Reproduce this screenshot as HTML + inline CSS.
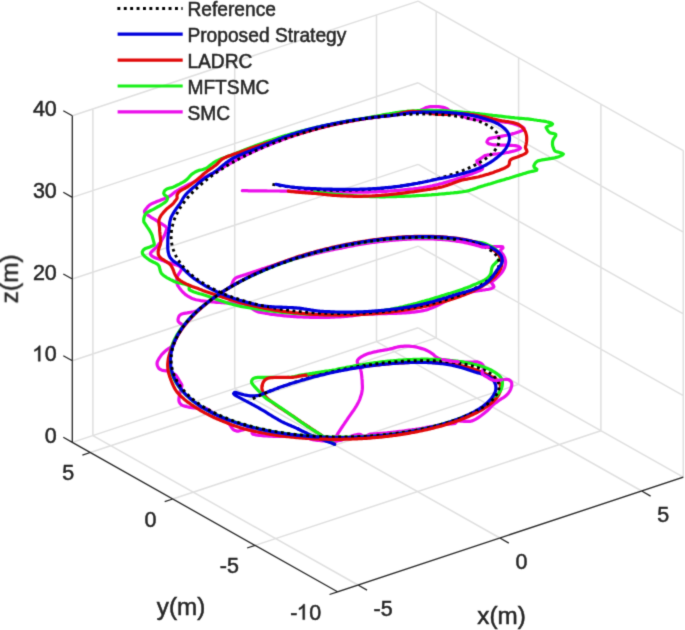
<!DOCTYPE html>
<html><head><meta charset="utf-8"><style>
html,body{margin:0;padding:0;background:#fff;width:685px;height:630px;overflow:hidden}
svg{display:block;will-change:transform}

text{font-family:"Liberation Sans",sans-serif;stroke:#262626;stroke-width:0.5px}
path.m,path.g,path.r,path.b{fill:none;stroke-width:3.2px;stroke-linecap:round;stroke-linejoin:round}
path.m{stroke:#eb0feb}path.g{stroke:#19f019}path.r{stroke:#e10a0a}path.b{stroke:#0000dc}
path.k{fill:none;stroke:#000;stroke-width:2.9px;stroke-linecap:butt}
</style></head><body>
<div id="w"><svg width="685" height="630" viewBox="0 0 685 630">
<defs><filter id="bl" x="0" y="0" width="685" height="630" filterUnits="userSpaceOnUse" color-interpolation-filters="sRGB"><feConvolveMatrix order="3" kernelMatrix="0.0192 0.1001 0.0192 0.1001 0.5228 0.1001 0.0192 0.1001 0.0192" divisor="1" edgeMode="duplicate"/></filter></defs>
<g filter="url(#bl)"><rect width="685" height="630" fill="#fff"/>
<path d="M358 585 L92.9 435.6 M92.9 435.6 L92.9 108.9 M499.9 538 L234.7 388.6 M234.7 388.6 L234.7 61.9 M641.7 491 L376.5 341.6 M376.5 341.6 L376.5 14.9 M337.5 591.8 L683.3 477.2 M683.3 477.2 L683.3 150.6 M255.1 545.4 L600.9 430.8 M600.9 430.8 L600.9 104.1 M172.7 499 L518.6 384.4 M518.6 384.4 L518.6 57.7 M90.3 452.5 L436.2 337.9 M436.2 337.9 L436.2 11.3 M72.3 442.4 L418.2 327.8 M418.2 327.8 L683.3 477.2 M72.3 360.7 L418.2 246.1 M418.2 246.1 L683.3 395.6 M72.3 279 L418.2 164.4 M418.2 164.4 L683.3 313.9 M72.3 197.4 L418.2 82.8 M418.2 82.8 L683.3 232.2 M72.3 115.7 L418.2 1.1 M418.2 1.1 L683.3 150.6" stroke="#dfdfdf" stroke-width="1.5" fill="none"/>
<path class="m" d="M334.6 444.3L334.7 442.7L334.9 441.1L335.2 439.5L335.6 438L336.2 436.5L337 435.1L337.8 433.7L338.6 432.4L339.5 431L340.4 429.7L341.2 428.3L342.1 427L343 425.7L343.9 424.4L344.8 423L345.7 421.7L346.6 420.4L347.5 419L348.4 417.7L349.3 416.4L350.2 415.1L351.1 413.8L352.1 412.5L352.9 411.2L353.9 409.9L354.8 408.5L355.6 407.2L356.5 405.8L357.3 404.4L358 403L358.7 401.6L359.4 400.1L360 398.6L360.5 397.1L361 395.6L361.5 394.1L361.8 392.5L362.1 390.9L362.3 389.4L362.4 387.8L362.4 386.2L362.3 384.6L362.2 383L362.2 381.4L362.1 379.8L361.9 378.2L361.8 376.6L361.6 375L361.4 373.4L361.2 371.8L360.8 370.3L360.5 368.7L360 367.2L359.3 365.8L358.3 364.5L357.5 363.1L357.2 361.5L357.6 360L358.7 358.8L359.9 357.8L361.2 356.9L362.6 356.1L364 355.3L365.4 354.7L367 354.1L368.5 353.6L370 353.1L371.5 352.8L373.1 352.3L374.6 351.9L376.2 351.6L377.8 351.2L379.3 351L380.9 350.6L382.5 350.4L384.1 350.1L385.6 349.8L387.2 349.6L388.8 349.3L390.3 348.9L391.9 348.5L393.4 348.1L395 347.6L396.5 347.2L398.1 346.9L399.6 346.6L401.2 346.4L402.8 346.3L404.4 346.2L406 346.2L407.6 346.2L409.2 346.2L410.8 346.3L412.4 346.5L414 346.7L415.6 346.9L417.1 347.3L418.7 347.7L420.2 348.1L421.8 348.6L423.3 349.1L424.8 349.6L426.3 350.2L427.7 350.9L429.1 351.6L430.5 352.4L431.8 353.4L433.1 354.3L434.3 355.4L435.5 356.4L436.8 357.4L438.1 358.2L439.6 358.7L441.2 359.2L442.7 359.5"/>
<path class="m" d="M458.5 361.9L460.1 362.1L461.7 362.2L463.3 362.2L464.9 362.2L466.5 362.1L468.1 362L469.7 362L471.3 362L472.9 362L474.5 361.9L476.1 361.9L477.7 361.9L479.2 362.4L480.7 363.1L482 364L483 365.2L483.4 366.8L483.2 368.3L482.8 369.9L482.3 371.4"/>
<path class="m" d="M501.8 379.8L503.4 379.7L505 379.5L506.6 379.4L508.2 379.5L509.6 380.2L510.8 381.2L511.6 382.6L511.8 384.1L511.7 385.7L511.3 387.3L510.8 388.8L510.2 390.2L509.4 391.6L508.5 392.9L507.5 394.2L506.4 395.3L505.2 396.4L503.9 397.3L502.5 398.2L501.2 398.9L499.8 399.8L498.5 400.7L497.2 401.7L496 402.6L494.6 403.5L493.4 404.6L492.2 405.6L491 406.7L490 407.9L488.9 409.1L487.8 410.2L486.6 411.3L485.4 412.3L484.2 413.3L482.9 414.3L481.6 415.3L480.3 416.2L479 417.1L477.7 418L476.3 418.8L474.9 419.6L473.5 420.3L472 420.9L470.5 421.3L468.9 421.4L467.3 421.4L465.7 421.4L464.1 421.3L462.5 421.2L460.9 421.1L459.3 421L457.7 420.9L456.1 420.9L454.5 420.9L453.1 421.1L454.5 421.9L455.8 422.8L455 423.4L453.4 423.7L451.8 423.8L450.2 424L448.6 424.1L447 424.2L445.4 424.3L443.8 424.4L442.2 424.6L440.6 424.8L439.1 425.1L437.5 425.4L435.9 425.7L434.4 426L432.8 426.3L431.2 426.6L429.6 426.9L428.1 427.2L426.5 427.4L424.9 427.8L423.3 428L421.8 428.3L420.2 428.5L418.6 428.8L417 429L415.4 429.3L413.9 429.5L412.3 429.7L410.7 430L409.1 430.2L407.5 430.4L405.9 430.6L404.4 430.9L402.8 431.1L401.2 431.3L399.6 431.4L398 431.6L396.4 431.8L394.8 432L393.2 432.2L391.6 432.3L390.1 432.5L388.5 432.7L386.9 432.9L385.3 433L383.7 433.1L382.1 433.3L380.5 433.4L378.9 433.6L377.3 433.7L375.7 433.8L374.1 433.9L372.5 434L370.9 434.2L369.4 434.4L368 435.2L366.6 436.1L365.2 436.7L363.7 436.5L362.3 435.7L361 434.7L359.6 434.3L358 434.4L356.4 434.7L354.8 435.1L353.3 435.6L351.8 436.1L350.3 436.7L348.9 437.4L347.4 437.9L345.9 438.5L344.4 439.1L342.9 439.6L341.3 440.1L339.8 440.5L338.2 440.8L336.7 441.1L335.1 441.3L333.5 441.3L331.9 441.3L330.3 441.2L328.7 441.2L327.1 441.1L325.5 441L323.9 440.9L322.3 440.8L320.7 440.6L319.1 440.5L317.5 440.3L315.9 440.1L314.3 439.8L312.7 439.6L311.2 439.3L309.7 438.7L308.4 437.8L307 437L305.5 436.8L303.9 436.7L302.3 436.6L300.7 436.5L299.1 436.5L297.5 436.4L295.9 436.4L294.3 436.4L292.7 436.4L291.1 436.4L289.5 436.4L287.9 436.4L286.3 436.4L284.7 436.4L283.1 436.4L281.5 436.4L279.9 436.4L278.3 436.4L276.7 436.3L275.1 436.3L273.5 436.3L271.9 436.2L270.3 436.2L268.7 436.1L267.1 436L265.5 435.9L263.9 435.8L262.3 435.6L260.7 435.5L259.1 435.3L257.5 435.1L255.9 434.9L254.4 434.5L252.8 434.1L252 433L252.3 431.4L252.8 429.9L253.1 428.4L252.1 427.5L250.6 427.7L249 428L247.4 428.4L245.9 428.9L244.4 429.4L242.9 429.9L241.3 430.3L239.8 430.8L238.2 431.1L236.6 431.1L235.1 430.6L233.7 429.9L232.6 428.8L231.6 427.5L230.7 426.2L229.8 424.8L228.8 423.6L227.5 422.7L226.2 421.8L224.9 420.9L223.5 420.1L222.2 419.1L220.9 418.2L219.6 417.3L218.3 416.3L217 415.4L215.7 414.5L214.3 413.6L213 412.7L211.7 411.9L210.4 411L209 410.1L207.7 409.3L206.3 408.5L204.7 408L203.2 407.8L201.6 407.8L200 407.8L198.4 407.8L196.8 407.9L195.2 407.9L193.6 407.9L192 407.7L190.4 407.4L188.8 407.1L187.3 406.8L185.7 406.4L184.2 405.9L182.7 405.4L181.2 404.7L180.1 403.5L179.3 402.2L178.9 400.6L178.9 399L179.1 397.4L179.3 395.9L179.7 394.3L180 392.7L180.2 391.1L180.8 389.6L181.3 388.1L181.8 386.6L181.9 385L181.1 383.6L180.3 382.3L179.4 380.9L178.6 379.5L177.8 378.2L177 376.8L176.1 375.5L174.9 374.4L173.5 373.6L172.1 372.9L170.6 372.3L169.1 371.7L167.6 371.2L166.1 370.8L164.5 370.7L162.9 370.4L161.4 369.9L159.9 369.2L158.7 368.2L157.9 366.8L157.3 365.4L157 363.8L157.2 362.2L157.8 360.7L158.6 359.3L159.4 357.9L160.3 356.6L161.2 355.3L162.2 354.1L163.3 353L164.5 351.8L165.7 350.8L166.9 349.8L168.2 348.9L169.6 348L171 347.2L172.3 346.3L173.5 345.3L174 343.8L174.5 342.3L175.1 340.8L175.8 339.3L176.5 337.9L177.1 336.4L177.9 335L178.7 333.6L179.5 332.3L180.3 330.9L181.2 329.6L182.1 328.2L183 326.9L182.8 325.5L181.7 324.3L180.4 323.4L179.1 322.4L178.2 321.2L178 319.6L178.3 318L178.9 316.5L179.8 315.2L181.1 314.3L182.6 313.8L184.2 313.4L185.8 313.1L187.3 312.9L188.9 312.6L190.5 312.3L192.1 312L193.6 311.7L195.2 311.3L196.7 310.7L198 309.9L199.3 308.9L200.5 307.9L201.8 306.9L203 305.9L204.3 304.9L205.6 304L206.8 303L208.1 302L209.4 301L210.6 300L211.9 299.1L213.2 298.1L214.5 297.2L215.8 296.3L217.2 295.4L218.5 294.5L219.8 293.6L221.1 292.8L222.5 291.9L223.9 291.1L225.2 290.2L226.6 289.4L227.9 288.5L229.3 287.7L230.6 286.7L231.5 285.4L232.1 283.9L232.6 282.4L233.2 280.9L234.1 279.6L235.1 278.4L236.5 277.6L238 277L239.5 276.4L241 275.9L242.5 275.5L244 275L245.6 274.6L247.1 274.1L248.6 273.6L250.1 273.1L251.7 272.5L253.2 272L254.7 271.5L256.2 271L257.7 270.4L259.2 269.9L260.7 269.4L262.3 268.9L263.8 268.4L265.3 267.9L266.8 267.4L268.4 266.9L269.9 266.5L271.4 266L272.9 265.5L274.5 265L276 264.6L277.5 264.1L279 263.6L280.6 263.1L282.1 262.7L283.6 262.2L285.2 261.7L286.7 261.3L288.2 260.8L289.8 260.4L291.3 260L292.8 259.5L294.4 259L295.9 258.6L297.5 258.2L299 257.8L300.6 257.4L302.1 256.9L303.6 256.5L305.2 256.2L306.7 255.7L308.3 255.4L309.8 255L311.4 254.6L313 254.2L314.5 253.8L316.1 253.5L317.6 253.1L319.2 252.7L320.7 252.4L322.3 252L323.9 251.7L325.4 251.3L327 251L328.6 250.7L330.1 250.3L331.7 250L333.2 249.6L334.8 249.3L336.4 249L337.9 248.6L339.5 248.4L341.1 248.1L342.7 247.7L344.2 247.4L345.8 247.1L347.4 246.8L348.9 246.5L350.5 246.2L352.1 245.9L353.6 245.6L355.2 245.3L356.8 245L358.4 244.7L359.9 244.5L361.5 244.2L363.1 244L364.7 243.7L366.3 243.4L367.8 243.2L369.4 242.9L371 242.7L372.6 242.5L374.2 242.3L375.8 242.1L377.3 241.9L378.9 241.7L380.5 241.5L382.1 241.3L383.7 241.1L385.3 241L386.9 240.8L388.5 240.6L390.1 240.5L391.7 240.3L393.3 240.2L394.8 240.1L396.4 239.9L398 239.8L399.6 239.7L401.2 239.6L402.8 239.4L404.4 239.4L406 239.3L407.6 239.2L409.2 239.1L410.8 239.1L412.4 239L414 238.9L415.6 238.9L417.2 238.9L418.8 238.9L420.4 238.8L422 238.8L423.6 238.8L425.2 238.8L426.8 238.9L428.4 238.9L430 238.9L431.6 239L433.2 239L434.8 239.1L436.4 239.2L438 239.3L439.6 239.4L441.2 239.5L442.8 239.6L444.4 239.7L446 239.8L447.6 240L449.2 240.1L450.7 240.3L452.3 240.6L453.9 240.7L455.5 241L457.1 241.2"/>
<path class="m" d="M488.3 247.1L489.9 247L491.5 246.8L493.1 246.7L494.7 246.7L496.3 246.6L497.9 246.5L499.5 246.5L501.1 246.6L502.7 246.8L503 247.9L501.9 249L500.6 250L500.3 251.3L501.3 252.4L502.3 253.7L503.3 255L504 256.4L504.7 257.8L505.1 259.4L505.5 260.9L505.6 262.5L505.4 264.1L505.1 265.7L504.7 267.2L504 268.7L503.3 270.1L502.5 271.4L501.5 272.7L500.5 274L499.4 275.2L498.3 276.3L497.2 277.4L496 278.5L494.8 279.5L493.6 280.5L492.3 281.5L491.5 282.8L492.3 284.1L493.4 285.4L493.9 286.8L492.8 287.9L491.4 288.5L489.8 289L488.3 289.3L486.7 289.5L485.1 289.8L483.5 290L481.9 290.3L480.3 290.4L478.8 290.7L477.2 290.9L475.6 291.1L474 291.4L472.5 291.8L470.9 292.2L469.4 292.7L467.9 293.3L466.4 293.7L464.9 294.2L463.3 294.8L461.8 295.2L460.3 295.7L458.8 296.2L457.3 296.8L455.7 297.2L454.2 297.8L452.7 298.2L451.2 298.8L449.7 299.4L448.2 299.9L446.8 300.6L445.3 301.3L443.9 302.1L442.5 302.8L441.1 303.5L439.7 304.3L438.2 305L436.8 305.7L435.4 306.4L433.9 307L432.4 307.7L430.9 308.2L429.4 308.8L427.9 309.4L426.4 309.9L424.9 310.3L423.3 310.6L421.8 310.9L420.2 311.2L418.6 311.5L417 311.7L415.4 311.9L413.8 312.1L412.2 312.2L410.7 312.4L409.1 312.6L407.5 312.7L405.9 312.8L404.3 312.9L402.7 313L401.1 313.1L399.5 313.2L397.9 313.2L396.3 313.3L394.7 313.4L393.1 313.4L391.5 313.5L389.9 313.5L388.3 313.5L386.7 313.6L385.1 313.6L383.5 313.6L381.9 313.7L380.3 313.7L378.7 313.7L377.1 313.8L375.5 313.8L373.9 313.8L372.3 313.9L370.7 313.9L369.1 314L367.5 314L365.9 314.1L364.3 314.2L362.7 314.4L361.1 314.5L359.5 314.7L357.9 314.9L356.4 315.1L354.8 315.3L353.2 315.6L351.6 315.8L350 316L348.4 316.2L346.8 316.3L345.2 316.5L343.6 316.6L342.1 316.7L340.5 316.8L338.9 316.9L337.3 317L335.7 317L334.1 317.1L332.5 317.2L330.9 317.2L329.3 317.3L327.7 317.3L326.1 317.4L324.5 317.4L322.9 317.4L321.3 317.4L319.7 317.4L318.1 317.4L316.5 317.4L314.9 317.3L313.3 317.3L311.7 317.3L310.1 317.3L308.5 317.2L306.9 317.2L305.3 317.1L303.7 317.1L302.1 317L300.5 316.9L298.9 316.8L297.3 316.8L295.7 316.7L294.1 316.6L292.5 316.5L290.9 316.3L289.3 316.2L287.7 316.1L286.1 315.9L284.5 315.8L282.9 315.6L281.3 315.5L279.8 315.2L278.2 315.1L276.6 314.9L275 314.7L273.4 314.5L271.8 314.3L270.2 314.1L268.6 313.8L267.1 313.5L265.5 313.3L263.9 313L262.3 312.7L260.8 312.5L259.2 312.2L257.7 311.7L256.2 311.1L254.8 310.3L253.4 309.5L252.1 308.6L250.8 307.6L249.5 306.7L248.2 305.8L246.8 305.1L245.3 304.5L243.7 304L242.2 303.7L240.6 303.4L239 303.3L237.4 303.1L235.8 303L234.2 303L232.6 302.9L231 302.9L229.4 302.9L227.8 302.8L226.2 302.8L224.6 302.8L223 302.7L221.4 302.6L219.8 302.5L218.2 302.4L216.6 302.3L215 302.1L213.5 302L211.9 301.8L210.3 301.6L208.7 301.5L207.1 301.3L205.5 301.2L203.9 301L202.3 300.8L200.7 300.6L199.2 300.3L197.6 300L196 299.7L194.5 299.3L193 298.8L191.4 298.2L190.1 297.4L188.7 296.6L187.3 295.8L186 294.9L184.8 293.9L183.6 292.8L182.4 291.6L181.4 290.5L180.4 289.2L179.4 287.9L178.5 286.6L177.7 285.3L177.1 283.8L176.8 282.2L176.8 280.6L176.9 279L177 277.4L177.6 275.9L178.4 274.5L179.3 273.2L180.1 271.8L181 270.5L181.5 269L181.1 267.5L179.9 266.5L178.5 265.7L177 265.1L175.5 264.7L173.9 264.2L172.4 263.7L170.9 263.3L169.3 262.9L167.8 262.4L166.3 261.9L164.8 261.4L163.3 260.7L161.8 260.2L160.3 259.6L158.8 259.1L157.3 258.6L155.8 258L154.3 257.4L152.9 256.6L151.6 255.7L150.6 254.5L150.6 253L151.5 251.7L152.7 250.6L153.9 249.6L155.1 248.5L156.3 247.4L157.2 246.1L158.2 244.9L159.2 243.6L160.2 242.4L161.2 241.1L162 239.7L162.9 238.4L163.6 237L164.3 235.5L164.9 234.1L165.5 232.6L166.1 231.1L166.5 229.6L166.7 228L165.9 226.7L164.6 225.7L163.2 224.9L161.9 224L160.5 223.2L159.1 222.4L157.8 221.5L156.5 220.6L155.1 219.7L153.7 218.9L152.4 218.1L151 217.3L149.7 216.3L148.4 215.4L147.1 214.4L145.8 213.5L144.6 212.5L144.5 211.1L145.4 209.7L146.3 208.5L147.4 207.2L148.4 206.1L149.6 205L151 204.1L152.4 203.4L153.9 202.8L155.3 202.2L156.8 201.5L158.3 200.9L159.8 200.4L161.3 199.8L162.8 199.3L164.3 198.8L165.8 198.3L167.3 197.6L168.7 196.8L170 195.9L171.3 194.9L172.5 193.9L173.8 192.9L175.1 192L176.5 191.2L177.8 190.4L179.2 189.5L180.6 188.8L182 188L183.4 187.3L184.9 186.5L186.3 185.8L187.7 185L189.1 184.3L190.5 183.6L192 182.9L193.4 182.2L194.9 181.6L196.4 180.9L197.8 180.3L199.3 179.6L200.7 178.9L202.2 178.3L203.7 177.7L205.1 177L206.6 176.4L208 175.7L209.5 175L210.9 174.3L212.3 173.6L213.8 172.8L215.2 172.1L216.5 171.3L217.9 170.5L219.3 169.6L220.7 168.8L222 168L223.4 167.2L224.8 166.4L226.2 165.5L227.6 164.8L229 164L230.4 163.2L231.8 162.5L233.1 161.6L234.6 160.9L236 160.2L237.4 159.4L238.8 158.7L240.2 157.9L241.7 157.2L243.1 156.5L244.5 155.8L246 155.1L247.4 154.4L248.9 153.8L250.3 153.1L251.8 152.4L253.2 151.7L254.7 151L256.1 150.4L257.6 149.7L259.1 149.1L260.5 148.5L262 147.8L263.5 147.2L264.9 146.6L266.4 146L267.9 145.4L269.4 144.8L270.9 144.2L272.4 143.6L273.8 143L275.3 142.4L276.8 141.9L278.3 141.3L279.8 140.7L281.3 140.2L282.8 139.6L284.3 139.1L285.8 138.5L287.4 138L288.9 137.5L290.4 137L291.9 136.4L293.4 136L294.9 135.4L296.5 135L298 134.5L299.5 134L301 133.5L302.6 133.1L304.1 132.5L305.6 132.1L307.2 131.6L308.7 131.2L310.2 130.8L311.8 130.3L313.3 129.9L314.9 129.5L316.4 129L317.9 128.6L319.5 128.2L321 127.8L322.6 127.4L324.1 127.1L325.7 126.6L327.2 126.3L328.8 125.9L330.4 125.5L331.9 125.1L333.5 124.8L335 124.5L336.6 124.1L338.1 123.7L339.7 123.4L341.3 123L342.8 122.7L344.4 122.4L346 122.1L347.5 121.8L349.1 121.5L350.7 121.2L352.3 120.9L353.8 120.6L355.4 120.4L357 120L358.6 119.8L360.1 119.5L361.7 119.3L363.3 119L364.9 118.7L366.5 118.5L368 118.3L369.6 118L371.2 117.8L372.8 117.6L374.4 117.4L376 117.2L377.6 117L379.1 116.8L380.7 116.5L382.3 116.4L383.9 116.2L385.5 116L387.1 115.9L388.7 115.7L390.3 115.5L391.9 115.4L393.4 115.2L395 115L396.6 114.7L398.2 114.4L399.8 114.2L401.3 113.9L402.9 113.6L404.5 113.2L406.1 113L407.6 112.7L409.2 112.5L410.8 112.3L412.4 112.1L414 112L415.6 111.9L417.2 111.6L418.7 111.2L420.2 110.5L421.6 109.8L423 109.1L424.4 108.4L425.9 107.6L427.4 107.2L429 106.9L430.5 106.7L432.1 106.6L433.7 106.6L435.3 106.6L436.9 106.7L438.5 106.7L440.1 106.9L441.7 107.1L443.3 107.4L444.8 107.8L446.3 108.4L447.7 109.2L448.9 110.3L450.2 111.1L451.7 111.7L453.3 112.2L454.8 112.6L456.3 113.2L457.8 113.7L459.2 114.5L460.6 115.2L462.1 115.9L463.5 116.6L465 117.1L466.5 117.7L468 118.2L469.6 118.6L471.1 118.9L472.7 119.2L474.3 119.4L475.9 119.5L477.5 119.8L479.1 119.9L480.7 120L482.2 120.1L483.8 120.2L485.4 120.3L487 120.5L488.6 120.6L490.2 120.7L491.8 120.8L493.4 120.9L495 121.1L496.6 121.2L498.2 121.3L499.8 121.5L501.4 121.7L503 121.8L504.6 122.1L506.1 122.3L507.7 122.5L509.3 122.8L510.9 123.2L512.4 123.5L514 123.9L515.5 124.4L517 124.9L518.5 125.4L520 126L521.5 126.6L522.9 127.3L524.1 128.4L523.5 129.7L522.1 130.5L520.7 131.1L519.2 131.7L517.7 132.2L516.2 132.7L514.6 133.2L513.1 133.6L511.5 134.1L510 134.5L508.4 134.8L506.9 135.2L505.3 135.5L503.7 135.8L502.2 136.1L500.6 136.4L499 136.6L497.4 136.9L495.9 137.2L494.3 137.5L492.7 137.8L491.1 138.1L489.6 138.4L488.3 139.3L487.4 140.6L486.9 142.1L487.9 143.3L489.4 143.9L490.9 144.3L492.5 144.7L494.1 144.8L495.7 144.9L497.3 145L498.9 145L500.5 145.1L502.1 145.1L503.7 145.1L505.3 145.2L506.9 145.2L508.5 145.3L510.1 145.3L511.7 145.4L513.3 145.5L514.9 145.6L516.4 145.9L518 146.3L519.4 146.9L520.5 148.1L519.4 149.1L517.9 149.7L516.4 150.2L514.9 150.7L513.3 151.1L511.8 151.5L510.2 151.9L508.7 152.3L507.1 152.5L505.5 152.8L503.9 153.1L502.3 153.3L500.8 153.5L499.2 153.7L497.6 153.9L496 154L494.4 154.2L492.8 154.4L491.2 154.6L489.6 154.8L488 154.9L486.5 155.2L484.9 155.6L483.6 156.5L482.3 157.4L480.9 158.3L479.6 159.2L478.3 160L476.9 160.9L477.1 162.2L478.3 163.3L479.5 164.4L480.6 165.6L481.7 166.7L482.7 167.9L482.3 169.3L480.9 170L479.5 170.7L478 171.3L476.5 171.9L475 172.5L473.5 173.1L472.1 173.7L470.5 174.2L469 174.7L467.5 175.3L466 175.8L464.5 176.3L463 176.9L461.5 177.4L460 177.9L458.5 178.4L456.9 178.9L455.4 179.4L453.9 179.9L452.4 180.4L450.8 180.8L449.3 181.2L447.8 181.7L446.2 182.2L444.7 182.6L443.2 183.1L441.6 183.5L440.1 183.8L438.5 184.3L437 184.7L435.4 185L433.9 185.4L432.3 185.8L430.7 186.1L429.2 186.5L427.6 186.7L426 187L424.5 187.3L422.9 187.6L421.3 187.8L419.7 188L418.1 188.3L416.5 188.5L415 188.7L413.4 188.9L411.8 189L410.2 189.2L408.6 189.4L407 189.6L405.4 189.7L403.8 189.8L402.2 190L400.6 190.2L399 190.3L397.4 190.4L395.8 190.5L394.3 190.7L392.7 190.8L391.1 190.9L389.5 191L387.9 191.2L386.3 191.3L384.7 191.4L383.1 191.5L381.5 191.5L379.9 191.6L378.3 191.7L376.7 191.8L375.1 191.9L373.5 191.9L371.9 192L370.3 192L368.7 192.1L367.1 192.1L365.5 192.1L363.9 192.2L362.3 192.2L360.7 192.2L359.1 192.2L357.5 192.2L355.9 192.2L354.3 192.2L352.7 192.2L351.1 192.2L349.5 192.2L347.9 192.2L346.3 192.2L344.7 192.2L343.1 192.2L341.5 192.1L339.9 192.1L338.3 192.1L336.7 192.1L335.1 192L333.5 192L331.9 191.9L330.3 191.9L328.7 191.9L327.1 191.9L325.5 191.8L323.9 191.8L322.3 191.9L320.7 191.9L319.1 191.9L317.5 191.9L315.9 191.9L314.3 191.9L312.7 191.8L311.1 191.8L309.5 191.8L307.9 191.7L306.3 191.7L304.7 191.6L303.1 191.6L301.5 191.5L299.9 191.5L298.3 191.5L296.7 191.4L295.1 191.4L293.5 191.3L291.9 191.3L290.3 191.3L288.7 191.2L287.1 191.2L285.5 191.2L283.9 191.1L282.3 191.1L280.7 191.1L279.1 191L277.5 191L275.9 191L274.3 191L272.7 191L271.1 191L269.5 191L267.9 191L266.3 190.9L264.7 190.9L263.1 190.9L261.5 190.9L259.9 190.8L258.3 190.8L256.7 190.8L255.1 190.8L253.5 190.8L251.9 190.8L250.3 190.8L248.7 190.8L247.1 190.7L245.5 190.7L243.9 190.7L242.3 190.7"/>
<path class="r" d="M334.6 444.3L333.3 443.4L332 442.5L330.7 441.6L329.3 440.6L328 439.7L326.7 438.8L325.4 438L324 437.1L322.7 436.2L321.4 435.3L320.1 434.4L318.7 433.5L317.4 432.6L316 431.8L314.7 430.9L313.4 430L312 429.1L310.7 428.2L309.4 427.3L308 426.5"/>
<path class="g" d="M334.6 444.3L333.3 443.4L332 442.5L330.7 441.6L329.3 440.6L328 439.7L326.7 438.8L325.4 438L324 437.1L322.7 436.2L321.4 435.3L320 434.4L318.7 433.5L317.4 432.7L316 431.8L314.6 431L313.3 430.1L311.9 429.3L310.6 428.4L309.2 427.5L307.9 426.7"/>
<path class="b" d="M334.6 444.3L333.1 443.7L331.6 443.1L330.1 442.6L328.6 442L327.1 441.5L325.6 440.9L324.1 440.3L322.6 439.7L321.1 439.2L319.6 438.6L318.1 438.1L316.6 437.5L315.2 436.9L313.7 436.3L312.2 435.7L310.7 435.1L309.3 434.4L307.8 433.7L306.4 433L304.9 432.3L303.5 431.6L302 431L300.6 430.2L299.2 429.5L297.8 428.8"/>
<path class="r" d="M308 426.5L306.7 425.6L305.3 424.7L304 423.8L302.7 422.9L301.3 422L300 421.1L298.7 420.2L297.4 419.3L296.1 418.4L294.8 417.4L293.5 416.5L292.1 415.7L290.8 414.8L289.4 413.9L288.1 413L286.8 412.1L285.4 411.3L284.1 410.4L282.7 409.5L281.4 408.7L280.1 407.8L278.7 406.9L277.4 406L276.1 405.1L274.8 404.2L273.5 403.2L272.2 402.3L270.9 401.3L269.7 400.3L268.4 399.3L267.2 398.2L266.1 397.1L265.1 395.9L264.2 394.6L263.5 393.1L262.8 391.7L262.2 390.2L261.9 388.6L261.9 387L262.2 385.5"/>
<path class="r" d="M306 375.2L307.5 375L309.1 374.8L310.7 374.5L312.3 374.3L313.9 374.1L315.5 373.9L317.1 373.7L318.6 373.4L320.2 373.2L321.8 373L323.4 372.8L325 372.6L326.6 372.3L328.2 372.1L329.7 371.9L331.3 371.7L332.9 371.4L334.5 371.2L336.1 370.9L337.6 370.6L339.2 370.4L340.8 370L342.4 369.8L343.9 369.5L345.5 369.2L347.1 369L348.7 368.7L350.3 368.5L351.8 368.2L353.4 368L355 367.7L356.6 367.5L358.2 367.3L359.8 367L361.3 366.8L362.9 366.7L364.5 366.4L366.1 366.2L367.7 366L369.3 365.8L370.9 365.7L372.5 365.5L374.1 365.3L375.7 365.1L377.2 365L378.8 364.8L380.4 364.6L382 364.5L383.6 364.3L385.2 364.1L386.8 364L388.4 363.9L390 363.7L391.6 363.5L393.2 363.4L394.8 363.3L396.4 363.2L398 363.1L399.6 363L401.2 362.9L402.7 362.8L404.3 362.7L405.9 362.6L407.5 362.6L409.1 362.5L410.7 362.5L412.3 362.4L413.9 362.4L415.5 362.3L417.1 362.3L418.7 362.3L420.3 362.3L421.9 362.3L423.5 362.3L425.1 362.3L426.7 362.4L428.3 362.4L429.9 362.5L431.5 362.5L433.1 362.6L434.7 362.7L436.3 362.7L437.9 362.9L439.5 363L441.1 363.1L442.7 363.2L444.3 363.4L445.9 363.5L447.5 363.7L449.1 363.9L450.7 364.1L452.3 364.3L453.8 364.5L455.4 364.7L457 365L458.6 365.3L460.1 365.6L461.7 365.9L463.3 366.2L464.8 366.6L466.4 367L467.9 367.4L469.5 367.8L471 368.2L472.6 368.7L474.1 369.2L475.6 369.7L477.1 370.3L478.5 370.9L480 371.5L481.5 372.1L483 372.7L484.5 373.3L485.9 373.9L487.4 374.6L488.9 375.2L490.3 375.9L491.7 376.6L493.2 377.3L494.5 378.1L495.8 379.1L497 380.2L498 381.3L499 382.6L499.8 384L500.4 385.5L500.6 387L500.6 388.6L500.4 390.2L500 391.8L499.4 393.2L498.8 394.7L497.9 396L497 397.3L496 398.6"/>
<path class="g" d="M307.9 426.7L306.5 425.8L305.2 424.9L303.9 424L302.6 423.1L301.2 422.2L299.9 421.3L298.7 420.4L297.4 419.4L296 418.5L294.8 417.5L293.4 416.6L292.1 415.7L290.8 414.8L289.5 413.9L288.2 413L286.9 412.1L285.6 411.1L284.3 410.2L283 409.2L281.7 408.3L280.3 407.5L279 406.6L277.7 405.7L276.4 404.8L275 403.9L273.7 403L272.3 402.2L270.9 401.4L269.5 400.6L268.2 399.8L266.8 398.9L265.6 397.9L264.3 396.9L263.2 395.8L262.1 394.6L261 393.4L259.9 392.2L258.8 391.1L257.7 390L256.6 388.8L255.5 387.6L254.4 386.5L253.4 385.3L252.4 384L251.6 382.6L251.5 381.1L252.2 379.6L253.4 378.5L254.8 377.9L256.3 377.6L257.9 377.4L259.5 377.4L261.1 377.3L262.7 377.3L264.3 377.3L265.9 377.3L267.5 377.3L269.1 377.3L270.7 377.4L272.3 377.4L273.9 377.4L275.5 377.5L277.1 377.5L278.7 377.5L280.3 377.5L281.9 377.5L283.5 377.5L285.1 377.5L286.7 377.5L288.3 377.4L289.9 377.3L291.5 377.1L293.1 376.8L294.7 376.5L296.2 376.1L297.8 375.8L299.3 375.4L300.9 375.1L302.5 374.8L304.1 374.6L305.6 374.3L307.2 374.1L308.8 373.9L310.4 373.6L312 373.4L313.5 373.1L315.1 372.9L316.7 372.6L318.3 372.4L319.9 372.2L321.5 371.9L323 371.7L324.6 371.4L326.2 371.2L327.8 371L329.4 370.7L330.9 370.5L332.5 370.2L334.1 370L335.7 369.7L337.2 369.3L338.8 368.9L340.4 368.6L341.9 368.3L343.5 368L345.1 367.7L346.6 367.3L348.2 367L349.8 366.8L351.4 366.5L352.9 366.2L354.5 365.9L356.1 365.6L357.6 365.3L359.2 365L360.8 364.8L362.4 364.6L364 364.3L365.5 364.1L367.1 363.8L368.7 363.6L370.3 363.4L371.9 363.2L373.5 362.9L375 362.7L376.6 362.5L378.2 362.3L379.8 362.1L381.4 361.9L383 361.7L384.6 361.5L386.2 361.3L387.8 361.2L389.3 361.1L390.9 360.9L392.5 360.8L394.1 360.6L395.7 360.5L397.3 360.3L398.9 360.2L400.5 360.1L402.1 360L403.7 359.9L405.3 359.8L406.9 359.7L408.5 359.7L410.1 359.6L411.7 359.5L413.3 359.4L414.9 359.4L416.5 359.4L418.1 359.3L419.7 359.3L421.3 359.2L422.9 359.2L424.5 359.2L426.1 359.2L427.7 359.2L429.3 359.3L430.9 359.3L432.5 359.3L434.1 359.4L435.7 359.4L437.3 359.5L438.9 359.6L440.5 359.6L442.1 359.8L443.6 359.8L445.2 359.9L446.8 360.1L448.4 360.2L450 360.4L451.6 360.5L453.2 360.7L454.8 360.8L456.4 361.1L458 361.2L459.6 361.5L461.1 361.7L462.7 361.9L464.3 362.3L465.9 362.5L467.4 362.8L469 363.1L470.6 363.4L472.1 363.8L473.7 364.2L475.2 364.5L476.8 364.9L478.3 365.4L479.9 365.8L481.4 366.3L482.9 366.8L484.4 367.3L485.9 367.9L487.4 368.5L488.8 369.1L490.3 369.8L491.7 370.5L493.1 371.3L494.5 372.1L495.8 373L497.1 373.9L498.4 374.9L499.5 376L500.6 377.2L501.4 378.6L502 380L502.3 381.6L502.4 383.2L502.3 384.8L502.1 386.3L501.6 387.9L501.1 389.4L500.3 390.7L499.5 392.1L498.5 393.4L497.5 394.6L496.5 395.9L495.4 397.1L494.3 398.2L493.1 399.3L491.9 400.3L490.7 401.4L489.5 402.4L488.3 403.5L487 404.4L485.7 405.4L484.4 406.3L483 407.1L481.7 407.9L480.3 408.8L479 409.6L477.6 410.4L476.1 411.1L474.7 411.9L473.3 412.6L471.9 413.3L470.4 414L469 414.6L467.5 415.3L466.1 415.9L464.6 416.5L463.1 417.1L461.6 417.7L460.1 418.3L458.6 418.9L457.1 419.4L455.6 420L454.1 420.5L452.6 421L451.1 421.5L449.5 422L448 422.4L446.5 423L445 423.4L443.4 423.8L441.9 424.3L440.3 424.7L438.8 425.1L437.2 425.5L435.7 425.9L434.2 426.3L432.6 426.7L431.1 427.2L429.5 427.5L427.9 427.9L426.4 428.2L424.8 428.5L423.3 428.9L421.7 429.2L420.1 429.5L418.6 429.9L417 430.2L415.4 430.5L413.8 430.7L412.3 431.1L410.7 431.3L409.1 431.6L407.5 431.8L406 432.2L404.4 432.4L402.8 432.6L401.2 432.9L399.6 433L398.1 433.3L396.5 433.5L394.9 433.7L393.3 433.9L391.7 434.1L390.1 434.3L388.5 434.5L386.9 434.7L385.4 434.8L383.8 435L382.2 435.2L380.6 435.3L379 435.5L377.4 435.7L375.8 435.8L374.2 435.9L372.6 436L371 436.1L369.4 436.2L367.8 436.3L366.2 436.5L364.6 436.6L363 436.6L361.4 436.7L359.8 436.8L358.2 436.8L356.6 436.9L355 437L353.4 437.1L351.8 437.1L350.2 437.1L348.6 437.2L347 437.2L345.4 437.2L343.8 437.2L342.2 437.2L340.6 437.2L339 437.2L337.4 437.2L335.8 437.2L334.2 437.2L332.6 437.2L331 437.1L329.4 437.1L327.8 437.1L326.3 437L324.7 436.9L323.1 436.9L321.5 436.8L319.9 436.7L318.3 436.7L316.7 436.6L315.1 436.5L313.5 436.4L311.9 436.2L310.3 436.1L308.7 436L307.1 435.9L305.5 435.8L303.9 435.7L302.3 435.5L300.7 435.4L299.1 435.2L297.5 435L295.9 434.8L294.3 434.7L292.8 434.5L291.2 434.3L289.6 434.1L288 433.9L286.4 433.7L284.8 433.4L283.2 433.2L281.7 433L280.1 432.8L278.5 432.5L276.9 432.3L275.3 432L273.8 431.7L272.2 431.5L270.6 431.1L269 430.8L267.5 430.6L265.9 430.2L264.3 429.9L262.8 429.6L261.2 429.3L259.7 428.9L258.1 428.5L256.5 428.2L255 427.8L253.4 427.4L251.9 427L250.3 426.6L248.8 426.2L247.2 425.8L245.7 425.4L244.2 425L242.6 424.4L241.1 424L239.6 423.5L238 423L236.5 422.6L235 422L233.5 421.5L232 421L230.5 420.5L229 419.9L227.5 419.4L226 418.8L224.5 418.2L223 417.6L221.5 417L220.1 416.4L218.6 415.7L217.1 415L215.7 414.4L214.3 413.7L212.8 413L211.4 412.3L209.9 411.6L208.5 410.8L207.1 410.1L205.7 409.3L204.4 408.4L203 407.6L201.6 406.8L200.3 406L198.9 405.1L197.6 404.2L196.3 403.3L195 402.4L193.7 401.4L192.4 400.4L191.2 399.4L190 398.4L188.8 397.3L187.6 396.3L186.4 395.2L185.3 394.1L184.1 392.9L183 391.7L181.9 390.6L180.9 389.4L179.9 388.1L178.9 386.8L178 385.5L177.1 384.2L176.2 382.9L175.5 381.5L174.6 380.1L173.9 378.7L173.3 377.2L172.6 375.8L172.1 374.3L171.5 372.8L171.1 371.2L170.7 369.7L170.3 368.1L170 366.6L169.8 365L169.6 363.4L169.5 361.8L169.5 360.2L169.5 358.6L169.6 357L169.7 355.4L169.9 353.8L170.2 352.3L170.5 350.7L170.9 349.1L171.3 347.6L171.8 346.1L172.4 344.6L172.9 343.1L173.6 341.6L174.2 340.2L174.9 338.7L175.7 337.3L176.4 335.9L177.2 334.5L178.1 333.2L179 331.8L179.8 330.5L180.7 329.2L181.7 327.9L182.6 326.6L183.6 325.4L184.7 324.1L185.7 322.9L186.7 321.7L187.8 320.5L188.8 319.3L189.9 318.1L191 317L192.2 315.8L193.3 314.7L194.4 313.6L195.7 312.5L196.8 311.4L198 310.3L199.2 309.3L200.4 308.3L201.6 307.2L202.8 306.2L204.1 305.2L205.3 304.1L206.5 303.2L207.8 302.2L209.1 301.2L210.3 300.2L211.6 299.3L212.9 298.3L214.3 297.4L215.6 296.5L216.8 295.6L218.2 294.7L219.5 293.8L220.9 292.9L222.2 292.1L223.5 291.2L224.9 290.4L226.3 289.5L227.6 288.7L229 287.9L230.4 287.1L231.8 286.3L233.2 285.5L234.6 284.7L236 284L237.3 283.1L238.8 282.4L240.2 281.7L241.6 280.9L243 280.1L244.4 279.4L245.8 278.7L247.3 278L248.7 277.3L250.2 276.6L251.6 275.9L253.1 275.2L254.5 274.5L256 273.9L257.4 273.2L258.9 272.6L260.4 272L261.8 271.3L263.3 270.7L264.8 270L266.2 269.4L267.7 268.8L269.2 268.2L270.7 267.6L272.2 267L273.7 266.4L275.1 265.8L276.6 265.2L278.1 264.7L279.6 264.1L281.1 263.6L282.6 263L284.1 262.5L285.6 261.9L287.2 261.4L288.7 260.9L290.2 260.4L291.7 259.9L293.2 259.3L294.7 258.8L296.2 258.3L297.8 257.9L299.3 257.4L300.8 256.9L302.3 256.4L303.9 256L305.4 255.5L306.9 255L308.5 254.6L310 254.1L311.5 253.7L313.1 253.3L314.6 252.8L316.2 252.4L317.7 252L319.3 251.6L320.8 251.2L322.4 250.8L323.9 250.4L325.5 250L327 249.6L328.6 249.3L330.1 248.9L331.7 248.5L333.2 248.2L334.8 247.8L336.4 247.4L337.9 247.1L339.5 246.8L341.1 246.5L342.6 246.1L344.2 245.8L345.8 245.5L347.3 245.1L348.9 244.8L350.5 244.6L352 244.2L353.6 243.9L355.2 243.7L356.8 243.4L358.3 243.1L359.9 242.9L361.5 242.6L363.1 242.3L364.6 242.1L366.2 241.9L367.8 241.6L369.4 241.4L371 241.2L372.6 241L374.2 240.7L375.7 240.5L377.3 240.3L378.9 240.1L380.5 239.9L382.1 239.7L383.7 239.5L385.3 239.4L386.9 239.2L388.4 239.1L390 238.9L391.6 238.7L393.2 238.6L394.8 238.5L396.4 238.4L398 238.3L399.6 238.1L401.2 238L402.8 237.9L404.4 237.8L406 237.7L407.6 237.6L409.2 237.6L410.8 237.5L412.4 237.4L414 237.4L415.6 237.4L417.2 237.3L418.8 237.3L420.4 237.3L422 237.3L423.6 237.3L425.2 237.3L426.8 237.3L428.4 237.3L430 237.4L431.6 237.4L433.2 237.5L434.8 237.5L436.4 237.6L438 237.7L439.6 237.7L441.2 237.9L442.8 237.9L444.3 238.1L445.9 238.2L447.5 238.4L449.1 238.5L450.7 238.7L452.3 238.9L453.9 239.1L455.5 239.3L457.1 239.5L458.6 239.8L460.2 240L461.8 240.3L463.4 240.5L465 240.7L466.6 240.8L468.2 241L469.7 241.2L471.3 241.4L472.9 241.5L474.5 241.7L476.1 241.8L477.7 242.1L479.3 242.3L480.8 242.5L482.4 242.9L484 243.3L485.5 243.8L487 244.4L488.4 245.1L489.8 245.8L491.3 246.5L492.7 247.3L494 248.2L495.3 249.2L496.4 250.2L497.6 251.4L498.6 252.6L499.5 253.9L500.1 255.3L500.2 256.9L499.6 258.3L498.7 259.6L497.6 260.9L496.5 262L495.4 263.1L494.2 264.3L493.2 265.4L492.3 266.7L491.8 268.2L491.5 269.8L491.3 271.4L491 272.9L490.4 274.4L489.6 275.8L488.6 277L487.4 278.1L486.1 279L484.8 279.9L483.3 280.6L481.9 281.4L480.5 282L479 282.6L477.5 283.3L476.1 283.9L474.6 284.5L473.1 285.1L471.6 285.7L470.2 286.4L468.7 287L467.2 287.6L465.7 288.1L464.2 288.6L462.7 289.2L461.2 289.7L459.7 290.2L458.1 290.7L456.6 291.2L455.1 291.8L453.6 292.2L452.1 292.7L450.5 293.2L449 293.6L447.5 294.1L446 294.6L444.4 295.1L442.9 295.5L441.3 295.9L439.8 296.4L438.3 296.9L436.8 297.4L435.2 297.8L433.7 298.3L432.2 298.7L430.6 299.2L429.1 299.7L427.6 300.1L426 300.5L424.5 301L423 301.4L421.4 301.9L419.9 302.3L418.3 302.7L416.8 303.2L415.3 303.6L413.7 303.9L412.2 304.4L410.6 304.8L409.1 305.1L407.5 305.6L406 305.9L404.4 306.3L402.8 306.7L401.3 307L399.7 307.3L398.2 307.7L396.6 308L395 308.3L393.5 308.7L391.9 309L390.3 309.3L388.7 309.5L387.2 309.8L385.6 310.1L384 310.4L382.4 310.6L380.9 310.9L379.3 311.1L377.7 311.4L376.1 311.6L374.5 311.8L372.9 312L371.4 312.2L369.8 312.4L368.2 312.6L366.6 312.7L365 312.9L363.4 313L361.8 313.2L360.2 313.4L358.6 313.5L357 313.6L355.4 313.7L353.8 313.8L352.2 313.9L350.6 314L349 314.1L347.4 314.2L345.8 314.3L344.2 314.3L342.7 314.4L341.1 314.4L339.5 314.5L337.9 314.5L336.3 314.6L334.7 314.6L333.1 314.6L331.5 314.6L329.9 314.7L328.3 314.7L326.7 314.7L325.1 314.6L323.5 314.6L321.9 314.6L320.3 314.6L318.7 314.5L317.1 314.5L315.5 314.5L313.9 314.4L312.3 314.4L310.7 314.3L309.1 314.3L307.5 314.2L305.9 314.1L304.3 314L302.7 314L301.1 313.8L299.5 313.7L297.9 313.6L296.3 313.5L294.7 313.4L293.1 313.3L291.5 313.2L289.9 313L288.3 312.9L286.7 312.7L285.1 312.6L283.5 312.4L281.9 312.3L280.4 312.1L278.8 311.9L277.2 311.7L275.6 311.6L274 311.4L272.4 311.2L270.8 310.9L269.2 310.8L267.7 310.6L266.1 310.4L264.5 310.2L262.9 309.9L261.3 309.6L259.7 309.4L258.2 309.2L256.6 309L255 308.7L253.4 308.4L251.8 308.2L250.3 307.9L248.7 307.7L247.1 307.4L245.5 307.2L243.9 307L242.4 306.7L240.8 306.4L239.2 306L237.7 305.7L236.1 305.3L234.6 304.9L233 304.5L231.5 304L229.9 303.7L228.4 303.2L226.9 302.7L225.4 302.2L223.8 301.7L222.3 301.2L220.8 300.7L219.3 300.2L217.7 299.7L216.2 299.2L214.7 298.6L213.2 298.1L211.7 297.6L210.2 297L208.7 296.4L207.2 295.9L205.7 295.4L204.2 295L202.6 294.5L201.1 294L199.5 293.7L198 293.2L196.5 292.8L194.9 292.3L193.4 291.8L192 291.1L190.5 290.5L189.2 289.6L189.1 288.2L189.6 286.6L188.7 285.5L187.2 284.9L185.7 284.4L184.1 284L182.6 283.7L181 283.3L179.4 283L177.9 282.7L176.3 282.2L174.8 281.7L173.4 281L172 280.3L170.5 279.6L169.1 278.8L167.7 278.1L166.3 277.3L165 276.4L163.7 275.4L162.5 274.4L161.4 273.3L160.6 271.8L160.1 270.3L159.8 268.8L159.4 267.2L158.8 265.7L157.8 264.5L156.5 263.6L155.1 262.8L153.6 262.2L152.2 261.5L150.8 260.8L149.4 260L148.1 259L146.8 258.1L145.5 257.1L144.3 256L143.3 254.8L142.4 253.5L142.3 251.9L143 250.5L144 249.3L145.4 248.5L146.9 247.9L148.4 247.4L149.9 246.9L151.4 246.3L152.9 245.8L154.2 245L154.2 243.4L153.8 241.9L153.4 240.3L153 238.8L152.6 237.3L152.2 235.7L151.6 234.2L150.9 232.8L150.1 231.4L149.3 230L148.4 228.7L147.5 227.4L146.6 226L145.7 224.7L144.9 223.4L143.9 222.1L143.7 220.5L143.8 218.9L144.1 217.4L144.6 215.8L145.2 214.4L146.1 213.1L147.4 212.2L148.9 211.5L150.3 210.8L151.7 210.1L153.2 209.4L154.6 208.6L155.9 207.8L157.4 207L158.8 206.3L160.2 205.5L161.6 204.7L162.9 203.8L164.2 202.9L165.5 201.9L166.6 200.8L167.3 199.4L167.6 197.8L166.9 196.5L165.6 195.7L164.3 194.7L163.7 193.4L164.1 191.8L164.8 190.4L166.1 189.4L167.5 188.8L169 188.3L170.6 187.9L172.1 187.4L173.6 186.9L175.1 186.2L176.5 185.5L178 184.8L179.4 184.1L180.8 183.3L182.2 182.6L183.6 181.8L185 181L186.2 180L187.4 179L188.5 177.8L189.6 176.5L190.6 175.4L191.8 174.3L193.1 173.4L194.5 172.5L195.8 171.7L197.3 171L198.8 170.4L200.3 170L201.9 169.7L203.4 169.3L204.9 168.8L206.4 168.1L207.7 167.2L209 166.2L210.2 165.2L211.5 164.2L212.8 163.3L214.1 162.3L215.4 161.5L216.9 160.8L218.3 160.1L219.7 159.4L221.2 158.8L222.7 158.2L224.2 157.7L225.7 157.2L227.2 156.6L228.7 156.1L230.3 155.6L231.7 155L233.3 154.5L234.7 153.9L236.2 153.2L237.7 152.6L239.2 152L240.7 151.4L242.2 150.8L243.6 150.3L245.1 149.6L246.6 149.1L248.1 148.5L249.6 147.9L251.1 147.3L252.6 146.8L254.1 146.2L255.6 145.6L257.1 145.1L258.6 144.5L260.1 143.9L261.6 143.4L263.1 142.9L264.6 142.3L266.1 141.8L267.6 141.2L269.1 140.7L270.6 140.2L272.2 139.8L273.7 139.2L275.2 138.7L276.7 138.3L278.2 137.8L279.8 137.3L281.3 136.8L282.8 136.3L284.3 135.9L285.9 135.4L287.4 135L289 134.5L290.5 134.1L292 133.6L293.6 133.2L295.1 132.8L296.6 132.3L298.2 131.9L299.7 131.5L301.3 131.1L302.8 130.7L304.4 130.3L305.9 129.9L307.5 129.6L309.1 129.2L310.6 128.8L312.2 128.4L313.7 128L315.3 127.7L316.8 127.3L318.4 126.9L320 126.6L321.5 126.2L323.1 125.9L324.6 125.6L326.2 125.2L327.8 124.9L329.3 124.6L330.9 124.3L332.5 124L334 123.6L335.6 123.3L337.2 123L338.7 122.7L340.3 122.3L341.9 122.1L343.5 121.8L345 121.5L346.6 121.2L348.2 120.9L349.8 120.7L351.3 120.3L352.9 120.1L354.5 119.9L356.1 119.6L357.6 119.3L359.2 119L360.8 118.8L362.4 118.5L364 118.3L365.5 118L367.1 117.7L368.7 117.5L370.3 117.2L371.8 116.9L373.4 116.6L375 116.3L376.6 116.1L378.1 115.8L379.7 115.5L381.3 115.2L382.8 114.9L384.4 114.6L386 114.3L387.6 114L389.1 113.8L390.7 113.5L392.3 113.3L393.9 113L395.5 112.7L397 112.5L398.6 112.3L400.2 112.1L401.8 111.9L403.4 111.7L405 111.5L406.6 111.4L408.2 111.2L409.8 111.1L411.4 111L413 110.9L414.5 110.8L416.1 110.8L417.7 110.7L419.3 110.6L420.9 110.6L422.5 110.5L424.1 110.5L425.7 110.5L427.3 110.4L428.9 110.4L430.5 110.4L432.1 110.4L433.7 110.5L435.3 110.5L436.9 110.5L438.5 110.6L440.1 110.6L441.7 110.7L443.3 110.7L444.9 110.9L446.5 110.9L448.1 111L449.7 111.1L451.3 111.2L452.9 111.4L454.5 111.5L456.1 111.6L457.7 111.8L459.3 111.9L460.9 112L462.5 112.2L464.1 112.3L465.7 112.5L467.2 112.6L468.8 112.7L470.4 112.9L472 113L473.6 113.2L475.2 113.4L476.8 113.5L478.4 113.7L480 113.9L481.6 114L483.2 114.3L484.7 114.4L486.3 114.7L487.9 114.8L489.5 115L491.1 115.2L492.7 115.4L494.3 115.5L495.9 115.7L497.4 115.9L499 116.1L500.6 116.2L502.2 116.4L503.8 116.6L505.4 116.8L507 117L508.6 117.2L510.2 117.4L511.7 117.6L513.3 117.7L514.9 117.9L516.5 118L518.1 118.1L519.7 118.3L521.3 118.4L522.9 118.5L524.5 118.7L526.1 118.8L527.7 118.9L529.3 119.1L530.9 119.3L532.4 119.5L534 119.8L535.6 120L537.2 120.3L538.8 120.5L540.4 120.7L541.9 121L543.5 121.2L545.1 121.4L546.7 121.8L548.2 122.1L549.8 122.6L551.3 123.1L552.5 124.1L551.7 125L550.2 125.6L548.7 126.1L547.2 126.6L546.1 127.5L546.8 128.9L547.7 130.3L548.6 131.6L549.7 132.6L551.3 133.1L552.8 133.4L554.4 133.7L555.8 134.4L555.7 135.9L554.8 137.2L553.9 138.5L553.1 139.9L552.6 141.4L552.5 143L552.5 144.6L552.8 146.2L553.3 147.7L553.9 149.2L554.6 150.6L555.8 151.5L557.4 151.9L558.9 152.3L560.5 152.7L562 153.2L563.3 154.1L562.3 155.1L560.9 155.7L559.4 156.4L557.9 157L556.4 157.4L554.8 157.8L553.3 158.1L551.7 158.4L550.1 158.7L548.5 158.9L546.9 159.2L545.4 159.4L543.8 159.7L542.2 159.9L540.6 160.2L539.1 160.6L537.6 161.1L536.3 162L535.2 163.2L534.4 164.6L533.8 166L534.3 167.4L535.6 168.3L536.9 169.2L536.6 170.3L535.1 170.8L533.5 171.1L532 171.4L530.4 171.7L528.8 172.1L527.3 172.5L525.8 173.1L524.2 173.5L522.7 173.9L521.2 174.4L519.6 174.9L518.1 175.4L516.6 175.8L515.1 176.3L513.6 176.8L512 177.3L510.5 177.7L509 178.2L507.4 178.6L505.9 179.1L504.3 179.6L502.8 180L501.3 180.4L499.7 180.9L498.2 181.3L496.7 181.8L495.1 182.3L493.6 182.7L492.1 183.2L490.6 183.7L489 184.1L487.5 184.6L485.9 185L484.4 185.4L482.9 185.9L481.3 186.4L479.8 186.9L478.3 187.3L476.8 187.9L475.3 188.4L473.8 188.9L472.3 189.5L470.7 189.9L469.2 190.4L467.7 190.9L466.1 191.2L464.5 191.5L463 191.7L461.4 192L459.8 192.2L458.2 192.4L456.6 192.6L455 192.7L453.4 192.9L451.8 193L450.2 193.2L448.6 193.3L447.1 193.4L445.5 193.6L443.9 193.8L442.3 193.9L440.7 194L439.1 194.2L437.5 194.4L435.9 194.5L434.3 194.6L432.7 194.7L431.1 194.9L429.5 195L427.9 195.1L426.3 195.2L424.7 195.3L423.1 195.4L421.5 195.5L419.9 195.5L418.3 195.6L416.7 195.7L415.1 195.8L413.5 195.9L411.9 196L410.4 196.1L408.8 196.2L407.2 196.2L405.6 196.2L404 196.3L402.4 196.4L400.8 196.4L399.2 196.5L397.6 196.5L396 196.6L394.4 196.6L392.8 196.7L391.2 196.7L389.6 196.7L388 196.7L386.4 196.7L384.8 196.8L383.2 196.8L381.6 196.8L380 196.8L378.4 196.7L376.8 196.7L375.2 196.7L373.6 196.7L372 196.6L370.4 196.6L368.8 196.5L367.2 196.5L365.6 196.4L364 196.3L362.4 196.3L360.8 196.2L359.2 196.1L357.6 196L356 195.9L354.4 195.8L352.8 195.6L351.2 195.5L349.6 195.4L348 195.3L346.4 195.1L344.8 195L343.2 194.9L341.6 194.7L340 194.6L338.5 194.4L336.9 194.3L335.3 194.2L333.7 194L332.1 193.8L330.5 193.7L328.9 193.5L327.3 193.4L325.7 193.2L324.1 193L322.5 192.8L321 192.6L319.4 192.4L317.8 192.3L316.2 192.1L314.6 191.9"/>
<path class="r" d="M262.2 385.5L262.6 383.9L263.2 382.4L264 381L265.1 379.9L266.4 379L267.8 378.3L269.4 377.9L271 377.7L272.6 377.6L274.1 377.5L275.7 377.4L277.3 377.4L278.9 377.3L280.5 377.3L282.1 377.3L283.7 377.3L285.3 377.3L286.9 377.4L288.5 377.4L290.1 377.5L291.7 377.4L293.3 377.3L294.9 377L296.5 376.8L298.1 376.4L299.6 376.1L301.2 375.9L302.8 375.6L304.4 375.4L306 375.2"/>
<path class="r" d="M496 398.6L494.9 399.7L493.8 400.9L492.6 402L491.4 403.1L490.2 404.1L488.9 405.1L487.7 406L486.3 406.9L485 407.8L483.7 408.7L482.3 409.5L480.9 410.3L479.5 411.1L478.1 411.9L476.7 412.6"/>
<path class="r" d="M320.3 439.1L318.7 439L317.1 439L315.6 438.9L314 438.8L312.4 438.7L310.8 438.6L309.2 438.5L307.6 438.4L306 438.3L304.4 438.2L302.8 438.1L301.2 438L299.6 437.8L298 437.7L296.4 437.6L294.8 437.4L293.2 437.2L291.6 437.1L290 436.9L288.4 436.7L286.8 436.6L285.2 436.4L283.7 436.2L282.1 435.9L280.5 435.8L278.9 435.6L277.3 435.4L275.7 435.1L274.2 434.8L272.6 434.6L271 434.4L269.4 434.1L267.8 433.8L266.3 433.6L264.7 433.3L263.1 433L261.5 432.7L259.9 432.5L258.4 432.1L256.8 431.8L255.2 431.5L253.7 431.2L252.1 430.8L250.6 430.5L249 430.2L247.4 429.8L245.9 429.3L244.3 429L242.8 428.5L241.3 428L239.7 427.6L238.2 427.1L236.7 426.6L235.2 426.1L233.7 425.5L232.2 425L230.7 424.4L229.2 423.8L227.7 423.2L226.2 422.6L224.8 422L223.3 421.4L221.8 420.8L220.3 420.2L218.8 419.6L217.3 419L215.9 418.3L214.4 417.7L213 417L211.5 416.3L210.1 415.6L208.7 414.8L207.2 414.1L205.8 413.4L204.4 412.7L203 411.9L201.6 411.1L200.2 410.3L198.9 409.5L197.5 408.6L196.1 407.8L194.8 406.9L193.5 406L192.1 405.2L190.8 404.3L189.5 403.3L188.2 402.4L187 401.4L185.7 400.4L184.4 399.4L183.3 398.3L182.1 397.3L180.9 396.2L179.7 395.1L178.7 393.9L177.6 392.7L176.6 391.4L175.7 390.1L174.9 388.8L174.1 387.4L173.4 385.9L172.8 384.5L172.1 383L171.5 381.5L170.9 380L170.4 378.5L169.8 377L169.4 375.5L168.9 374L168.5 372.4L168.2 370.8L167.9 369.3L167.8 367.7L167.7 366.1L167.7 364.5L167.8 362.9L168 361.3L168.2 359.7L168.4 358.1L168.8 356.6L169.2 355L169.7 353.5L170.2 352L170.7 350.5L171.3 349L171.9 347.5L172.5 346L173.1 344.6L173.8 343.1L174.5 341.7L175.2 340.2L176 338.8L176.7 337.4L177.5 336L178.3 334.6L179.1 333.3L180 331.9L180.9 330.6L181.8 329.3L182.7 327.9L183.7 326.7L184.6 325.4L185.6 324.2L186.7 322.9L187.7 321.7L188.8 320.5L189.8 319.3L190.9 318.1L192 316.9L193.1 315.8L194.2 314.6L195.3 313.6L196.4 312.4L197.6 311.3L198.8 310.2L200 309.2L201.2 308.1L202.4 307L203.6 306L204.8 305L206.1 304L207.3 303L208.6 301.9L209.8 301L211.1 300L212.4 299L213.7 298.1L214.9 297.1L216.3 296.3L217.6 295.3L218.9 294.4L220.2 293.5L221.5 292.6L222.9 291.7L224.2 290.9L225.6 290L226.9 289.2L228.3 288.3L229.7 287.5L231 286.7L232.4 285.8L233.8 285L235.2 284.2L236.6 283.5L238 282.7L239.3 281.9L240.8 281.1L242.2 280.4L243.6 279.6L245 278.9L246.4 278.1L247.8 277.4L249.2 276.6L250.7 275.9L252.1 275.2L253.5 274.5L255 273.8L256.4 273.1L257.9 272.5L259.3 271.8L260.8 271.1L262.2 270.4L263.7 269.8L265.2 269.1L266.6 268.5L268.1 267.9L269.6 267.3L271.1 266.6L272.5 266L274 265.4L275.5 264.8L277 264.2L278.5 263.6L280 263L281.5 262.5L283 261.9L284.5 261.4L286 260.8L287.5 260.3L289 259.7L290.5 259.2L292 258.7L293.5 258.2L295 257.7L296.6 257.1L298.1 256.6L299.6 256.1L301.1 255.7L302.7 255.3L304.2 254.7L305.7 254.3L307.3 253.9L308.8 253.4L310.4 253L311.9 252.6L313.4 252.2L315 251.7L316.5 251.3L318.1 250.9L319.6 250.5L321.2 250L322.7 249.7L324.3 249.3L325.8 248.9L327.4 248.5L328.9 248.2L330.5 247.8L332.1 247.4L333.6 247L335.2 246.7L336.7 246.4L338.3 246L339.9 245.7L341.4 245.3L343 245L344.6 244.7L346.1 244.4L347.7 244.1L349.3 243.8L350.8 243.5L352.4 243.2L354 242.9L355.6 242.6L357.1 242.4L358.7 242.1L360.3 241.8L361.9 241.5L363.5 241.3L365 241.1L366.6 240.8L368.2 240.6L369.8 240.3L371.4 240.1L373 239.9L374.5 239.7L376.1 239.5L377.7 239.3L379.3 239.1L380.9 238.9L382.5 238.7L384.1 238.6L385.7 238.4L387.3 238.2L388.8 238L390.4 237.9L392 237.8L393.6 237.7L395.2 237.5L396.8 237.3L398.4 237.2L400 237.1L401.6 237L403.2 236.9L404.8 236.8L406.4 236.7L408 236.7L409.6 236.6L411.2 236.5L412.8 236.5L414.4 236.4L416 236.4L417.6 236.3L419.2 236.3L420.8 236.3L422.4 236.3L424 236.3L425.6 236.3L427.2 236.3L428.8 236.3L430.4 236.3L432 236.4L433.6 236.4L435.2 236.5L436.8 236.5L438.4 236.6L440 236.7L441.6 236.8L443.2 236.9L444.8 237.1L446.4 237.2L448 237.4L449.6 237.5L451.2 237.7L452.7 237.8L454.3 238L455.9 238.2L457.5 238.4L459.1 238.6L460.7 238.9L462.2 239.1L463.8 239.4L465.4 239.7L467 240.1L468.5 240.3L470.1 240.7L471.7 241.1L473.2 241.5L474.7 241.9L476.3 242.3L477.8 242.8L479.3 243.3L480.8 243.8L482.3 244.3L483.8 244.9L485.3 245.5L486.8 246.2L488.2 246.9L489.6 247.6L491 248.4L492.4 249.2L493.7 250.2L495 251.1L496.2 252.2L497.3 253.2L498.4 254.4L499.3 255.7L500.2 257.1L500.8 258.5L501.4 260L501.6 261.6L501.8 263.2L501.6 264.7L501.4 266.3L500.9 267.8L500.3 269.3L499.5 270.7L498.7 272.1L497.8 273.4L496.8 274.6L495.8 275.8L494.6 277L493.5 278.1L492.3 279.1L491 280.1L489.8 281.2L488.5 282.1L487.2 283L485.9 283.9L484.5 284.7L483.1 285.6L481.8 286.5L480.4 287.2L479 287.9L477.6 288.7L476.1 289.4L474.7 290.2L473.3 290.9L471.8 291.5L470.4 292.2L468.9 292.8L467.4 293.5L466 294.1L464.5 294.7L463 295.3L461.5 295.8L460 296.4L458.5 297L457 297.5L455.5 298L454 298.5L452.5 299L450.9 299.5L449.4 300L447.9 300.5L446.3 300.9L444.8 301.4L443.3 301.8L441.7 302.2L440.2 302.6L438.6 303.1L437.1 303.5L435.5 303.9L434 304.3L432.4 304.6L430.9 305.1L429.3 305.4L427.7 305.7L426.2 306.1L424.6 306.4L423.1 306.8L421.5 307.1L419.9 307.4L418.3 307.7L416.8 308L415.2 308.3L413.6 308.6L412.1 308.9L410.5 309.2L408.9 309.4L407.3 309.6L405.7 309.9L404.2 310.2L402.6 310.5L401 310.7L399.4 310.9L397.8 311.1L396.2 311.3L394.7 311.5L393.1 311.8L391.5 311.9L389.9 312.1L388.3 312.3L386.7 312.5L385.1 312.7L383.5 312.8L381.9 313L380.3 313.1L378.8 313.3L377.2 313.4L375.6 313.5L374 313.6L372.4 313.8L370.8 313.9L369.2 314L367.6 314.1L366 314.2L364.4 314.3L362.8 314.4L361.2 314.5L359.6 314.6L358 314.7L356.4 314.7L354.8 314.8L353.2 314.8L351.6 314.9L350 314.9L348.4 314.9L346.8 315L345.2 315L343.6 315L342 315L340.4 315.1L338.8 315.1L337.2 315L335.6 315L334 315L332.4 315L330.8 315L329.2 314.9L327.6 314.9L326 314.8L324.4 314.8L322.8 314.7L321.2 314.7L319.6 314.6L318 314.5L316.4 314.5L314.8 314.4L313.2 314.3L311.6 314.2L310 314.1L308.4 313.9L306.8 313.8L305.2 313.7L303.6 313.6L302 313.4L300.4 313.3L298.8 313.2L297.3 313L295.7 312.8L294.1 312.6L292.5 312.5L290.9 312.3L289.3 312.1L287.7 311.9L286.1 311.7L284.5 311.5L282.9 311.3L281.4 311.1L279.8 310.9L278.2 310.6L276.6 310.3L275 310.1L273.5 309.8L271.9 309.6L270.3 309.3L268.7 309L267.2 308.7L265.6 308.4L264 308.1L262.4 307.8L260.9 307.5L259.3 307.2L257.7 306.8L256.2 306.5L254.6 306.1L253.1 305.7L251.5 305.4L249.9 305L248.4 304.7L246.8 304.3L245.3 303.9L243.7 303.5L242.2 303.1L240.7 302.6L239.1 302.2L237.6 301.7L236 301.3L234.5 300.8L233 300.3L231.4 299.9L229.9 299.4L228.4 298.9L226.9 298.5L225.3 297.9L223.8 297.5L222.3 297.1L220.8 296.6L219.2 296L217.7 295.5L216.2 295.1L214.6 294.6L213.1 294.1L211.6 293.6L210.1 293.1L208.6 292.5L207.1 292L205.6 291.5L204.1 290.9L202.6 290.4L201.1 289.7L199.6 289.2L198.1 288.6L196.6 288L195.1 287.5L193.6 286.9L192.1 286.4L190.6 285.8L189.2 285.2L187.7 284.6L186.2 283.9L184.8 283.2L183.3 282.5L182 281.7L180.6 280.8L179.3 279.9L178.1 278.9L177 277.7L176.1 276.4L175.3 275L174.6 273.6L174 272.1L173.5 270.6L172.9 269.1L172.2 267.6L171.4 266.2L170.5 264.9L169.4 263.8L168.1 262.9L166.8 261.9L165.4 261.1L164.1 260.2L162.7 259.4L161.4 258.4L160.2 257.4L159.2 256.2L158.4 254.8L158.2 253.2L158.2 251.6L158.5 250L158.9 248.5L159.4 247L160 245.5L160.4 243.9L160.7 242.4L160.7 240.8L160.5 239.2L160.4 237.6L160.2 236L160 234.4L159.9 232.8L159.7 231.2L159.6 229.6L159.6 228L159.4 226.4L159.1 224.9L158.9 223.3L158.9 221.7L159 220.1L159.4 218.6L160.1 217.1L160.9 215.7L161.8 214.4L162.8 213.2L163.9 211.9L164.9 210.8L166 209.6L167.2 208.5L168.5 207.5L169.7 206.5L171 205.6L172.2 204.5L173.4 203.4L174.3 202.1L175.3 200.8L176.2 199.6L177.1 198.2L177.1 196.7L177 195.1L177.7 193.7L178.6 192.4L179.7 191.3L181 190.4L182.4 189.6L183.9 188.9L185.3 188.2L186.7 187.4L188.1 186.6L189.4 185.6L190.6 184.7L191.9 183.7L193.2 182.7L194.5 181.8L195.7 180.8L197 179.8L198.2 178.8L199.4 177.7L200.6 176.7L201.8 175.6L203 174.5L204.2 173.5L205.5 172.5L206.8 171.6L208 170.6L209.4 169.7L210.7 168.8L212 167.9L213.3 166.9L214.6 166L215.9 165.1L217.1 164L218.2 162.9L219.3 161.7L220.4 160.6L221.6 159.5L223 158.7L224.4 157.9L225.8 157.2L227.3 156.6L228.8 156L230.3 155.4L231.8 154.9L233.3 154.3L234.8 153.9L236.3 153.4L237.9 152.9L239.4 152.4L240.9 151.8L242.4 151.3L243.9 150.8L245.4 150.2L246.9 149.7L248.4 149.1L249.9 148.6L251.5 148.1L253 147.6L254.5 147.1L256 146.6L257.6 146.1L259.1 145.6L260.6 145.1L262.1 144.6L263.6 144.1L265.2 143.6L266.7 143.1L268.2 142.7L269.7 142.2L271.2 141.7L272.8 141.2L274.3 140.7L275.8 140.3L277.4 139.8L278.9 139.3L280.4 138.9L282 138.4L283.5 138L285 137.5L286.6 137.1L288.1 136.6L289.6 136.2L291.2 135.7L292.7 135.3L294.3 134.9L295.8 134.5L297.4 134L298.9 133.6L300.4 133.2L302 132.7L303.5 132.3L305.1 131.9L306.6 131.4L308.2 131L309.7 130.6L311.2 130.1L312.8 129.7L314.3 129.3L315.9 128.8L317.4 128.5L319 128.1L320.5 127.7L322.1 127.3L323.6 126.9L325.2 126.5L326.7 126.2L328.3 125.8L329.8 125.4L331.4 125.1L333 124.7L334.5 124.3L336.1 124L337.7 123.7L339.2 123.4L340.8 123L342.4 122.7L343.9 122.4L345.5 122.1L347.1 121.8L348.6 121.5L350.2 121.1L351.8 120.9L353.4 120.6L354.9 120.3L356.5 120L358.1 119.8L359.7 119.5L361.3 119.3L362.8 119.1L364.4 118.7L366 118.5L367.6 118.3L369.2 118L370.7 117.8L372.3 117.6L373.9 117.4L375.5 117.2L377.1 117L378.7 116.8L380.3 116.6L381.9 116.4L383.4 116.2L385 116.1L386.6 115.9L388.2 115.8L389.8 115.6L391.4 115.4L393 115.2L394.6 114.9L396.1 114.5L397.7 114.1L399.2 113.7L400.8 113.3L402.3 112.9L403.9 112.5L405.4 112.2L407 111.9L408.6 111.6L410.2 111.5L411.8 111.4L413.4 111.4L415 111.5L416.6 111.5L418.2 111.6L419.8 111.7L421.4 111.9L422.9 112.1L424.5 112.3L426.1 112.6L427.7 112.8L429.3 113L430.8 113.4L432.4 113.6L434 113.8L435.6 114L437.2 114.2L438.8 114.4L440.4 114.5L442 114.5L443.6 114.5L445.2 114.4L446.8 114.3L448.4 114.2L450 114.1L451.5 113.9L453.1 113.8L454.7 113.7L456.3 113.6L457.9 113.6L459.5 113.6L461.1 113.6L462.7 113.8L464.3 113.8L465.9 113.9L467.5 114.1L469.1 114.3L470.7 114.5L472.3 114.6L473.9 114.9L475.4 115.1L477 115.4L478.6 115.7L480.2 116L481.7 116.3L483.3 116.5L484.9 116.9L486.4 117.3L488 117.6L489.6 118L491.1 118.4L492.7 118.8L494.2 119.1L495.8 119.5L497.3 119.9L498.9 120.2L500.5 120.5L502 120.8L503.6 121L505.2 121.3L506.8 121.5L508.4 121.7L510 122L511.5 122.3L513.1 122.6L514.6 123L516.2 123.5L517.7 124L519.1 124.7L520.4 125.7L521.6 126.7L522.7 127.8L523.8 129.1L524.6 130.4L525.4 131.8L525.9 133.3L526.3 134.8L526.6 136.4L526.7 138L526.7 139.6L526.6 141.2L526.4 142.8L526.1 144.3L525.7 145.9L525.4 147.4L525.9 148.9L526.7 150.3L527 151.8L526 153.1L524.7 153.9L523.2 154.6L521.8 155.2L520.3 155.8L518.8 156.4L517.3 157L515.8 157.5L514.3 158L512.8 158.6L511.3 159.2L510.1 160.3L509.5 161.7L509.4 163.3L509 164.9L508 166.1L506.7 166.9L505.3 167.7L503.8 168.4L502.3 169L500.9 169.6L499.4 170.2L497.9 170.7L496.4 171.3L494.9 171.8L493.4 172.4L491.9 172.9L490.3 173.4L488.8 173.9L487.3 174.4L485.7 174.8L484.2 175.3L482.7 175.8L481.1 176.1L479.6 176.6L478 177L476.5 177.3L474.9 177.6L473.3 177.9L471.7 178.2L470.2 178.5L468.6 178.8L467 179.1L465.4 179.3L463.9 179.6L462.3 180L460.8 180.4L459.2 180.9L457.7 181.4L456.2 181.9L454.7 182.5L453.2 183.1L451.8 183.7L450.2 184.2L448.7 184.8L447.3 185.4L445.7 185.8L444.2 186.3L442.7 186.8L441.1 187.1L439.5 187.4L438 187.8L436.4 188.1L434.8 188.4L433.3 188.7L431.7 189L430.1 189.3L428.5 189.5L426.9 189.7L425.4 190L423.8 190.2L422.2 190.4L420.6 190.7L419 190.9L417.4 191.1L415.8 191.3L414.3 191.6L412.7 191.8L411.1 192L409.5 192.2L407.9 192.4L406.3 192.6L404.7 192.9L403.2 193.1L401.6 193.3L400 193.5L398.4 193.6L396.8 193.8L395.2 194L393.6 194.2L392 194.3L390.4 194.5L388.8 194.7L387.3 194.8L385.7 194.9L384.1 195.1L382.5 195.2L380.9 195.4L379.3 195.5L377.7 195.6L376.1 195.7L374.5 195.8L372.9 195.9L371.3 196L369.7 196L368.1 196.1L366.5 196.1L364.9 196.2L363.3 196.2L361.7 196.3L360.1 196.3L358.5 196.3L356.9 196.3L355.3 196.3L353.7 196.3L352.1 196.2L350.5 196.2L348.9 196.1L347.3 196.1L345.7 196L344.1 196L342.5 195.9L340.9 195.8L339.3 195.7L337.7 195.6L336.1 195.5L334.5 195.4L332.9 195.3L331.3 195.2L329.7 195L328.1 194.9L326.5 194.7L324.9 194.5L323.4 194.3L321.8 194.1L320.2 194L318.6 193.8L317 193.6L315.4 193.5L313.8 193.4L312.2 193.3L310.6 193.2L309 193.1L307.4 193L305.8 192.9L304.2 192.7L302.6 192.6L301 192.5L299.4 192.3L297.8 192.2L296.3 192.1L294.7 191.9L293.1 191.7L291.5 191.6L289.9 191.4L288.3 191.2"/>
<path class="b" d="M297.8 428.8L296.3 428.1L294.9 427.4L293.4 426.8L291.9 426.2L290.5 425.5L289 424.9L287.5 424.3L286 423.6L284.6 423L283.1 422.3L281.7 421.6L280.3 420.8L278.9 420.1L277.5 419.2L276.1 418.4L274.8 417.6L273.4 416.8L272 416L270.7 415.1L269.3 414.3L267.9 413.5L266.6 412.6L265.2 411.7L263.9 410.9L262.5 410.1L261.1 409.3L259.7 408.5L258.3 407.7L256.9 406.9L255.5 406.1L254.1 405.3L252.7 404.6L251.3 403.8L249.9 403.1L248.5 402.4L247.1 401.6L245.7 400.9L244.2 400.1L242.8 399.4L241.4 398.6L240 397.9L238.6 397.1L237.2 396.4L235.8 395.6L234.4 394.7L233.6 393.5L234.6 392.4L236.2 392.4L237.7 392.9L239.2 393.4L240.7 393.9L242.3 394.4L243.8 394.8L245.4 395.1L247 395.4L248.5 395.7L250.1 395.8L251.7 395.9L253.3 395.9L254.9 395.8L256.5 395.7L258.1 395.4L259.6 395L261.1 394.5L262.6 393.9L264.2 393.4L265.6 392.8L267.1 392.2L268.6 391.6L270.1 391"/>
<path class="b" d="M362.8 366.9L364.4 366.7L366 366.4L367.5 366.2L369.1 366L370.7 365.7L372.3 365.6L373.9 365.4L375.5 365.1L377.1 365L378.7 364.8L380.2 364.6L381.8 364.4L383.4 364.3L385 364.1L386.6 364L388.2 363.9L389.8 363.7L391.4 363.6L393 363.5L394.6 363.4L396.2 363.2L397.8 363.1L399.4 363L401 363L402.6 362.8L404.2 362.8L405.8 362.7L407.4 362.7L409 362.6L410.6 362.5L412.2 362.5L413.8 362.5L415.4 362.4L417 362.4L418.6 362.4L420.2 362.4L421.8 362.4L423.4 362.5L425 362.5L426.6 362.5L428.1 362.6L429.7 362.7L431.3 362.7L432.9 362.8L434.5 362.9L436.1 363.1L437.7 363.2L439.3 363.4L440.9 363.6L442.5 363.7L444.1 364L445.7 364.2L447.2 364.4L448.8 364.7L450.4 365L451.9 365.3L453.5 365.6L455.1 366L456.6 366.4L458.2 366.8L459.7 367.1L461.3 367.5L462.8 368L464.3 368.5L465.9 368.9L467.4 369.4L468.9 370L470.4 370.4L471.9 371L473.4 371.4L474.9 372L476.5 372.4L478 372.9L479.6 373.3L481.1 373.8L482.6 374.3L484.1 374.8L485.6 375.4L487.1 375.9L488.6 376.5L490 377.3L491.3 378.2L492.4 379.3L493.5 380.5L494.4 381.8L495 383.3L495.6 384.8L495.8 386.3L495.9 387.9L495.8 389.5L495.5 391.1L495 392.6L494.2 394L493.5 395.4L492.6 396.8L491.7 398L490.6 399.3L489.6 400.4L488.4 401.6L487.3 402.7L486.1 403.7L484.8 404.7L483.6 405.7L482.3 406.7L481 407.6L479.7 408.5L478.3 409.4L476.9 410.1L475.6 411L474.2 411.8L472.8 412.6L471.3 413.2L469.9 414L468.5 414.7L467 415.3L465.6 416L464.1 416.6L462.6 417.2L461.1 417.9L459.7 418.4L458.2 419L456.7 419.6L455.2 420.1L453.7 420.7L452.1 421.1L450.6 421.7L449.1 422.1L447.6 422.7L446.1 423.1L444.5 423.6L443 424.1L441.5 424.5L439.9 425L438.4 425.4L436.9 425.8L435.3 426.2L433.8 426.6L432.2 427L430.7 427.4L429.1 427.8L427.5 428.1L426 428.5L424.4 428.8L422.9 429.2L421.3 429.5L419.7 429.9L418.2 430.2L416.6 430.5L415 430.8L413.5 431.1L411.9 431.4L410.3 431.7L408.7 431.9L407.2 432.2L405.6 432.5L404 432.8L402.4 433L400.8 433.3L399.3 433.5L397.7 433.6L396.1 433.9L394.5 434.1L392.9 434.4L391.3 434.5L389.7 434.7L388.2 434.9L386.6 435.1L385 435.3L383.4 435.5L381.8 435.6L380.2 435.7L378.6 435.9L377 436L375.4 436.1L373.8 436.3L372.2 436.4L370.6 436.5L369 436.6L367.4 436.7L365.8 436.8L364.3 436.9L362.7 437L361.1 437.1L359.5 437.2L357.9 437.2L356.3 437.3L354.7 437.3L353.1 437.4L351.5 437.4L349.9 437.5L348.3 437.5L346.7 437.5L345.1 437.6L343.5 437.6L341.9 437.6L340.3 437.6L338.7 437.6L337.1 437.6L335.5 437.6L333.9 437.5L332.3 437.5L330.7 437.5L329.1 437.4L327.5 437.4L325.9 437.3L324.3 437.3L322.7 437.2L321.1 437.2L319.5 437.1L317.9 436.9L316.3 436.9L314.7 436.8L313.1 436.7L311.5 436.6L309.9 436.5L308.3 436.4L306.7 436.2L305.1 436L303.5 435.9L301.9 435.7L300.3 435.6L298.8 435.5L297.2 435.3L295.6 435.1L294 434.9L292.4 434.7L290.8 434.6L289.2 434.3L287.6 434.1L286 434L284.5 433.7L282.9 433.5L281.3 433.2L279.7 433L278.1 432.7L276.6 432.5L275 432.2L273.4 431.9L271.8 431.6L270.3 431.4L268.7 431L267.1 430.8L265.6 430.4L264 430.1L262.4 429.8L260.9 429.4L259.3 429.1L257.7 428.7L256.2 428.3L254.6 428L253.1 427.6L251.5 427.2L250 426.7L248.4 426.4L246.9 425.9L245.4 425.5L243.8 425.1L242.3 424.6L240.8 424.2L239.2 423.6L237.7 423.2L236.2 422.7L234.7 422.2L233.2 421.7L231.6 421.1L230.1 420.6L228.6 420L227.1 419.5L225.7 418.8L224.2 418.3L222.7 417.7L221.2 417L219.7 416.4L218.3 415.8L216.8 415.1L215.4 414.4L213.9 413.8L212.5 413L211.1 412.3L209.7 411.5L208.3 410.8L206.9 410L205.5 409.2L204.1 408.5L202.7 407.6L201.3 406.8L200 405.9L198.7 405L197.4 404.1L196 403.2L194.8 402.2L193.5 401.3L192.2 400.3L191 399.3L189.8 398.2L188.6 397.1L187.4 396.1L186.3 395L185.1 393.8L184.1 392.7L183 391.5L182 390.2L180.9 389L180 387.7L179 386.5L178.2 385.1L177.3 383.8L176.5 382.4L175.7 381L175 379.6L174.3 378.1L173.6 376.7L173.1 375.2L172.6 373.7L172.1 372.1L171.7 370.6L171.4 369L171 367.5L170.8 365.9L170.7 364.3L170.5 362.7L170.5 361.1L170.5 359.5L170.5 357.9L170.6 356.3L170.8 354.7L171.1 353.2L171.3 351.6L171.7 350L172.1 348.5L172.5 346.9L173 345.4L173.5 343.9L174.1 342.4L174.7 340.9L175.4 339.5L176.1 338L176.8 336.6L177.5 335.2L178.3 333.8L179.2 332.4L180.1 331.1L180.9 329.8L181.8 328.4L182.7 327.1L183.7 325.9L184.7 324.6L185.6 323.3L186.7 322.1L187.7 320.9L188.8 319.7L189.9 318.5L190.9 317.3L192 316.2L193.2 315L194.3 313.9L195.4 312.8L196.6 311.7L197.8 310.6L198.9 309.5L200.1 308.4L201.4 307.4L202.6 306.4L203.8 305.4L205.1 304.4L206.3 303.4L207.6 302.4L208.9 301.4L210.1 300.4L211.4 299.5L212.7 298.5L214 297.6L215.3 296.7L216.6 295.8L218 294.9L219.3 294L220.6 293.1L221.9 292.2L223.3 291.4L224.6 290.5L226 289.6L227.3 288.8L228.7 288L230.1 287.2L231.5 286.4L232.9 285.5L234.3 284.8L235.6 283.9L237 283.2L238.5 282.5L239.8 281.7L241.3 280.9L242.7 280.2L244.1 279.4L245.5 278.7L247 278L248.4 277.3L249.8 276.6L251.3 275.9L252.7 275.2L254.2 274.5L255.6 273.8L257.1 273.2L258.5 272.5L260 271.9L261.4 271.2L262.9 270.5L264.4 269.9L265.8 269.3L267.3 268.7L268.8 268L270.3 267.5L271.7 266.8L273.2 266.2L274.7 265.7L276.2 265.1L277.7 264.6L279.2 263.9L280.7 263.4L282.2 262.8L283.7 262.3L285.2 261.7L286.7 261.2L288.2 260.7L289.7 260.1L291.2 259.6L292.8 259.1L294.3 258.6L295.8 258.1L297.3 257.6L298.8 257.1L300.4 256.7L301.9 256.2L303.4 255.7L305 255.3L306.5 254.8L308 254.3L309.6 253.9L311.1 253.4L312.6 253L314.2 252.6L315.7 252.1L317.3 251.7L318.8 251.3L320.3 250.9L321.9 250.5L323.4 250.1L325 249.7L326.6 249.3L328.1 249L329.7 248.5L331.2 248.2L332.8 247.8L334.3 247.5L335.9 247.1L337.5 246.8L339 246.4L340.6 246.1L342.1 245.7L343.7 245.4L345.3 245.1L346.8 244.8L348.4 244.5L350 244.2L351.6 243.9L353.1 243.6L354.7 243.3L356.3 243L357.9 242.8L359.4 242.5L361 242.2L362.6 241.9L364.2 241.7L365.8 241.5L367.3 241.2L368.9 240.9L370.5 240.7L372.1 240.5L373.7 240.3L375.2 240.1L376.8 239.9L378.4 239.7L380 239.5L381.6 239.3L383.2 239.1L384.8 238.9L386.4 238.7L388 238.6L389.6 238.5L391.1 238.3L392.7 238.2L394.3 238L395.9 237.9L397.5 237.7L399.1 237.6L400.7 237.6L402.3 237.4L403.9 237.3L405.5 237.2L407.1 237.1L408.7 237.1L410.3 237L411.9 236.9L413.5 236.9L415.1 236.8L416.7 236.8L418.3 236.7L419.9 236.7L421.5 236.7L423.1 236.7L424.7 236.7L426.3 236.7L427.9 236.7L429.5 236.7L431.1 236.7L432.7 236.8L434.3 236.8L435.9 236.9L437.5 237L439.1 237L440.7 237.1L442.3 237.2L443.9 237.4L445.4 237.4L447 237.6L448.6 237.7L450.2 237.9L451.8 238L453.4 238.2L455 238.4L456.6 238.6L458.2 238.8L459.7 239.1L461.3 239.3L462.9 239.6L464.5 239.8L466 240.1L467.6 240.4L469.2 240.7L470.7 241.1L472.3 241.5L473.9 241.7L475.4 242.2L477 242.6L478.5 243L480.1 243.4L481.6 243.9L483.1 244.4L484.6 244.9L486.1 245.4L487.6 246L489.1 246.7L490.5 247.3L491.9 248L493.4 248.8L494.7 249.7L496 250.5L497.3 251.5L498.5 252.5L499.6 253.6L500.6 254.9L501.4 256.3L501.9 257.8L502.2 259.3L502.2 260.9"/>
<path class="b" d="M270.4 306.6L268.8 306.5L267.2 306.3L265.6 306.2L264.1 306L262.5 305.8L260.9 305.5L259.3 305.3L257.7 305L256.2 304.6L254.6 304.3L253.1 303.9L251.5 303.5L250 303.2L248.4 302.8L246.9 302.3L245.3 301.9L243.8 301.5L242.2 301.1L240.7 300.6L239.2 300.2L237.7 299.7L236.1 299.1L234.6 298.7L233.1 298.2L231.6 297.6L230.1 297.1L228.6 296.6L227.1 296L225.6 295.4L224.1 294.8L222.6 294.3L221.1 293.6L219.7 293L218.2 292.4L216.7 291.7L215.3 291L213.9 290.3L212.4 289.7L211 288.9L209.6 288.2L208.2 287.4L206.7 286.7L205.3 285.9L204 285L202.6 284.2L201.2 283.4L199.9 282.5L198.6 281.6L197.3 280.7L195.9 279.8L194.6 278.9L193.4 277.9L192.1 276.9L190.9 275.9L189.6 274.9L188.4 273.8L187.3 272.8L186.1 271.7L185 270.6L183.8 269.4L182.8 268.2L181.7 267.1L180.5 266L179.2 265L177.9 264L176.6 263.2L175.3 262.3L173.9 261.4L172.7 260.4L171.5 259.3L170.5 258.1L169.7 256.7L169 255.2L168.6 253.7L168.2 252.2L168 250.6L167.8 249L167.8 247.4L167.7 245.8L167.8 244.2L167.8 242.6L167.8 241L167.8 239.4L167.9 237.8L168 236.2L168.2 234.6L168.4 233L168.7 231.5L168.9 229.9L169.1 228.3L169.3 226.7L169.4 225.1L169.6 223.5L169.8 221.9L170.2 220.4L170.6 218.8L171.1 217.3L171.8 215.9L172.6 214.5L173.4 213.1L174.2 211.7L175.1 210.4L176 209.1L177 207.8L177.9 206.5L178.8 205.2L179.8 203.9L180.7 202.6L181.4 201.2L182.3 199.8L183 198.4L183.9 197.1L184.9 195.8L185.8 194.5L186.9 193.3L188 192.2L189.2 191.1L190.4 190L191.6 189L192.8 187.9L194 186.9L195.3 185.9L196.5 184.9L197.7 183.8L199 182.8L200.2 181.8L201.4 180.8L202.7 179.8L204 178.9L205.3 177.9L206.6 177L207.9 176.1L209.2 175.2L210.6 174.4L212 173.6L213.4 172.8L214.7 171.9L216 171L217.3 170L218.6 169.1L219.8 168L221 167L222.2 166L223.4 164.9L224.7 163.9L225.9 162.9L227.2 162L228.5 161.1L229.9 160.2L231.2 159.3L232.6 158.5L234 157.7L235.5 157.1L236.9 156.4L238.3 155.7L239.8 155.1L241.3 154.4L242.8 153.8L244.2 153.2L245.7 152.6L247.2 152.1L248.7 151.5L250.2 150.9L251.7 150.4L253.2 149.7L254.7 149.2L256.2 148.6L257.7 148L259.1 147.4L260.6 146.8L262.1 146.1L263.6 145.6L265 144.9L266.5 144.2L268 143.6L269.4 143L270.9 142.4L272.4 141.7L273.9 141.2L275.3 140.5L276.8 139.9L278.3 139.3L279.8 138.7L281.3 138.2L282.8 137.6L284.3 137L285.8 136.5L287.3 135.9L288.8 135.4L290.3 134.9L291.8 134.4L293.3 133.9L294.9 133.5L296.4 132.9L297.9 132.5L299.5 132L301 131.6L302.5 131.1L304.1 130.7L305.6 130.2L307.1 129.8L308.7 129.4L310.2 129L311.8 128.6L313.3 128.2L314.9 127.8L316.4 127.4L318 127L319.6 126.7L321.1 126.3L322.7 125.9L324.2 125.6L325.8 125.2L327.4 124.9L328.9 124.6L330.5 124.3L332.1 123.9L333.6 123.6L335.2 123.3L336.8 123L338.3 122.6L339.9 122.4L341.5 122.1L343.1 121.9L344.6 121.5L346.2 121.2L347.8 121L349.4 120.7L350.9 120.5L352.5 120.3L354.1 119.9L355.7 119.7L357.3 119.5L358.8 119.3L360.4 119L362 118.8L363.6 118.6L365.2 118.4L366.8 118.1L368.4 118L369.9 117.8L371.5 117.6L373.1 117.4L374.7 117.2L376.3 117L377.9 116.8L379.5 116.7L381.1 116.5L382.7 116.3L384.2 116.1L385.8 116L387.4 115.8L389 115.7L390.6 115.6L392.2 115.4L393.8 115.2L395.4 115L397 114.7L398.5 114.5L400.1 114.2L401.7 114L403.3 113.7L404.9 113.5L406.4 113.3L408 113.1L409.6 112.9L411.2 112.8L412.8 112.7L414.4 112.6L416 112.5L417.6 112.4L419.2 112.3L420.8 112.3L422.4 112.2L424 112.2L425.6 112.1L427.2 112.1L428.8 112.1L430.4 112L432 112L433.6 112.1L435.2 112.1L436.8 112.1L438.4 112.1L440 112.2L441.6 112.2L443.2 112.3L444.8 112.4L446.4 112.4L448 112.6L449.6 112.6L451.2 112.8L452.8 112.9L454.4 113.1L455.9 113.2L457.5 113.3L459.1 113.6L460.7 113.7L462.3 113.9L463.9 114.1L465.5 114.4L467 114.6L468.6 114.9L470.2 115.2L471.8 115.5L473.3 115.7L474.9 116.1L476.5 116.4L478 116.8L479.6 117.2L481.1 117.6L482.6 118.1L484.2 118.5L485.7 119L487.2 119.5L488.7 120L490.2 120.5L491.7 121.1L493.2 121.7L494.7 122.3L496.1 123L497.6 123.7L498.9 124.5L500.3 125.3L501.6 126.2L502.9 127.2L504.1 128.2L505.3 129.3L506.4 130.5L507.4 131.7L508.2 133.1L508.8 134.6L509.3 136.1L509.5 137.7L509.5 139.3L509.3 140.8L508.8 142.4L508.3 143.9L507.7 145.3L506.9 146.7L506.1 148.1L505.2 149.4L504.2 150.6L503.2 151.8L502.1 153L500.9 154.2L499.8 155.3L498.6 156.3L497.4 157.3L496.1 158.3"/>
<path class="k" d="M252.7 398.7L254.1 398.1L255.4 397.5"/>
<path class="k" d="M258.6 396L259.9 395.5L261.2 394.9"/>
<path class="k" d="M264.4 393.5L265.8 392.9L267.1 392.4"/>
<path class="k" d="M270.3 391L271.7 390.5L273 390"/>
<path class="k" d="M276.3 388.7L277.7 388.2L279 387.7"/>
<path class="k" d="M282.3 386.5L283.7 386L285 385.5"/>
<path class="k" d="M288.3 384.3L289.7 383.9L291.1 383.4"/>
<path class="k" d="M294.4 382.3L295.8 381.8L297.1 381.4"/>
<path class="k" d="M300.5 380.3L301.9 379.9L303.3 379.5"/>
<path class="k" d="M306.6 378.5L308 378.1L309.4 377.7"/>
<path class="k" d="M312.8 376.7L314.2 376.3L315.6 375.9"/>
<path class="k" d="M318.9 375L320.3 374.7L321.7 374.3"/>
<path class="k" d="M325.1 373.4L326.5 373.1L327.9 372.7"/>
<path class="k" d="M331.4 371.9L332.8 371.6L334.2 371.3"/>
<path class="k" d="M337.6 370.5L339 370.2L340.4 369.9"/>
<path class="k" d="M343.9 369.2L345.3 368.9L346.7 368.6"/>
<path class="k" d="M350.1 367.9L351.6 367.7L353 367.4"/>
<path class="k" d="M356.4 366.8L357.9 366.5L359.3 366.3"/>
<path class="k" d="M362.7 365.7L364.2 365.5L365.6 365.3"/>
<path class="k" d="M369.1 364.8L370.5 364.6L371.9 364.4"/>
<path class="k" d="M375.4 363.9L376.8 363.7L378.3 363.5"/>
<path class="k" d="M381.8 363.1L383.2 362.9L384.6 362.8"/>
<path class="k" d="M388.1 362.4L389.6 362.3L391 362.2"/>
<path class="k" d="M394.5 361.8L395.9 361.7L397.4 361.6"/>
<path class="k" d="M400.9 361.4L402.3 361.3L403.8 361.2"/>
<path class="k" d="M407.3 361L408.7 360.9L410.2 360.9"/>
<path class="k" d="M413.7 360.8L415.1 360.7L416.6 360.7"/>
<path class="k" d="M420.1 360.6L421.5 360.6L423 360.6"/>
<path class="k" d="M426.5 360.6L427.9 360.6L429.4 360.7"/>
<path class="k" d="M432.9 360.8L434.3 360.8L435.8 360.9"/>
<path class="k" d="M439.3 361.1L440.7 361.2L442.1 361.3"/>
<path class="k" d="M445.6 361.5L447.1 361.7L448.5 361.8"/>
<path class="k" d="M452 362.2L453.4 362.4L454.9 362.5"/>
<path class="k" d="M458.3 363.1L459.8 363.3L461.2 363.5"/>
<path class="k" d="M464.6 364.2L466.1 364.5L467.5 364.8"/>
<path class="k" d="M470.9 365.6L472.3 365.9L473.7 366.3"/>
<path class="k" d="M477 367.4L478.4 367.8L479.8 368.3"/>
<path class="k" d="M483 369.6L484.4 370.2L485.7 370.8"/>
<path class="k" d="M488.7 372.5L490 373.2L491.2 374"/>
<path class="k" d="M493.9 376.2L494.9 377.3L495.9 378.3"/>
<path class="k" d="M497.8 381.3L498.4 382.6L498.8 384"/>
<path class="k" d="M499.1 387.5L498.9 388.9L498.6 390.3"/>
<path class="k" d="M497.2 393.5L496.5 394.8L495.7 396"/>
<path class="k" d="M493.5 398.7L492.5 399.7L491.4 400.7"/>
<path class="k" d="M488.8 403L487.6 403.9L486.5 404.8"/>
<path class="k" d="M483.6 406.8L482.4 407.6L481.1 408.3"/>
<path class="k" d="M478.1 410.1L476.8 410.8L475.5 411.4"/>
<path class="k" d="M472.4 413L471.1 413.6L469.8 414.2"/>
<path class="k" d="M466.6 415.6L465.2 416.2L463.9 416.7"/>
<path class="k" d="M460.7 418L459.3 418.5L457.9 419"/>
<path class="k" d="M454.6 420.2L453.3 420.7L451.9 421.1"/>
<path class="k" d="M448.6 422.2L447.2 422.6L445.8 423.1"/>
<path class="k" d="M442.4 424L441 424.4L439.6 424.8"/>
<path class="k" d="M436.2 425.7L434.8 426.1L433.4 426.4"/>
<path class="k" d="M430 427.2L428.6 427.6L427.2 427.9"/>
<path class="k" d="M423.8 428.6L422.4 428.9L420.9 429.2"/>
<path class="k" d="M417.5 429.9L416.1 430.2L414.7 430.4"/>
<path class="k" d="M411.2 431.1L409.8 431.3L408.4 431.5"/>
<path class="k" d="M404.9 432.1L403.5 432.3L402 432.5"/>
<path class="k" d="M398.6 433L397.1 433.2L395.7 433.4"/>
<path class="k" d="M392.2 433.9L390.8 434L389.3 434.2"/>
<path class="k" d="M385.9 434.6L384.4 434.7L383 434.9"/>
<path class="k" d="M379.5 435.2L378.1 435.3L376.6 435.5"/>
<path class="k" d="M373.1 435.7L371.7 435.9L370.2 436"/>
<path class="k" d="M366.7 436.2L365.3 436.3L363.8 436.3"/>
<path class="k" d="M360.3 436.5L358.9 436.6L357.4 436.6"/>
<path class="k" d="M353.9 436.8L352.5 436.8L351 436.8"/>
<path class="k" d="M347.5 436.9L346.1 436.9L344.6 436.9"/>
<path class="k" d="M341.1 436.9L339.7 436.9L338.2 436.9"/>
<path class="k" d="M334.7 436.9L333.3 436.9L331.9 436.8"/>
<path class="k" d="M328.4 436.7L326.9 436.7L325.5 436.7"/>
<path class="k" d="M322 436.5L320.5 436.4L319.1 436.4"/>
<path class="k" d="M315.6 436.2L314.1 436.1L312.7 436"/>
<path class="k" d="M309.2 435.7L307.7 435.6L306.3 435.5"/>
<path class="k" d="M302.8 435.2L301.4 435L299.9 434.9"/>
<path class="k" d="M296.4 434.5L295 434.4L293.6 434.2"/>
<path class="k" d="M290.1 433.7L288.6 433.6L287.2 433.4"/>
<path class="k" d="M283.7 432.9L282.3 432.6L280.9 432.4"/>
<path class="k" d="M277.4 431.9L276 431.6L274.6 431.4"/>
<path class="k" d="M271.1 430.7L269.7 430.5L268.3 430.2"/>
<path class="k" d="M264.9 429.5L263.4 429.2L262 428.9"/>
<path class="k" d="M258.6 428.1L257.2 427.8L255.8 427.4"/>
<path class="k" d="M252.4 426.6L251 426.2L249.6 425.8"/>
<path class="k" d="M246.2 424.9L244.8 424.5L243.4 424.1"/>
<path class="k" d="M240.1 423L238.7 422.6L237.3 422.1"/>
<path class="k" d="M234 421L232.7 420.5L231.3 420"/>
<path class="k" d="M228 418.8L226.7 418.2L225.3 417.7"/>
<path class="k" d="M222.1 416.4L220.8 415.8L219.4 415.2"/>
<path class="k" d="M216.3 413.7L215 413.1L213.7 412.4"/>
<path class="k" d="M210.5 410.8L209.3 410.1L208 409.4"/>
<path class="k" d="M205 407.7L203.7 406.9L202.5 406.2"/>
<path class="k" d="M199.6 404.3L198.4 403.4L197.2 402.6"/>
<path class="k" d="M194.4 400.5L193.3 399.6L192.1 398.7"/>
<path class="k" d="M189.5 396.4L188.4 395.4L187.4 394.4"/>
<path class="k" d="M184.9 391.9L184 390.8L183 389.7"/>
<path class="k" d="M180.8 387L180 385.8L179.1 384.6"/>
<path class="k" d="M177.3 381.7L176.6 380.4L175.9 379.1"/>
<path class="k" d="M174.4 376L173.9 374.6L173.4 373.3"/>
<path class="k" d="M172.4 369.9L172.1 368.5L171.8 367.1"/>
<path class="k" d="M171.3 363.6L171.2 362.2L171.1 360.7"/>
<path class="k" d="M171.2 357.2L171.3 355.8L171.4 354.3"/>
<path class="k" d="M172 350.9L172.3 349.4L172.7 348"/>
<path class="k" d="M173.7 344.7L174.1 343.3L174.7 342"/>
<path class="k" d="M176.1 338.8L176.7 337.4L177.3 336.2"/>
<path class="k" d="M179 333.1L179.8 331.9L180.6 330.6"/>
<path class="k" d="M182.5 327.7L183.4 326.5L184.2 325.4"/>
<path class="k" d="M186.4 322.6L187.3 321.5L188.2 320.4"/>
<path class="k" d="M190.6 317.8L191.6 316.7L192.6 315.7"/>
<path class="k" d="M195 313.2L196.1 312.2L197.1 311.2"/>
<path class="k" d="M199.7 308.9L200.8 307.9L201.9 307"/>
<path class="k" d="M204.6 304.7L205.7 303.8L206.9 302.9"/>
<path class="k" d="M209.6 300.8L210.8 299.9L212 299"/>
<path class="k" d="M214.8 297L216 296.2L217.2 295.4"/>
<path class="k" d="M220.1 293.4L221.3 292.6L222.6 291.8"/>
<path class="k" d="M225.5 290L226.8 289.2L228 288.5"/>
<path class="k" d="M231 286.7L232.3 286L233.5 285.3"/>
<path class="k" d="M236.6 283.6L237.9 282.9L239.1 282.2"/>
<path class="k" d="M242.2 280.6L243.5 279.9L244.8 279.2"/>
<path class="k" d="M248 277.7L249.3 277L250.6 276.4"/>
<path class="k" d="M253.7 274.9L255.1 274.3L256.4 273.7"/>
<path class="k" d="M259.6 272.3L260.9 271.7L262.2 271.1"/>
<path class="k" d="M265.4 269.7L266.8 269.2L268.1 268.6"/>
<path class="k" d="M271.4 267.3L272.7 266.8L274.1 266.3"/>
<path class="k" d="M277.3 265L278.7 264.5L280 264"/>
<path class="k" d="M283.3 262.8L284.7 262.3L286.1 261.8"/>
<path class="k" d="M289.4 260.6L290.7 260.2L292.1 259.7"/>
<path class="k" d="M295.4 258.6L296.8 258.2L298.2 257.7"/>
<path class="k" d="M301.5 256.7L302.9 256.3L304.3 255.8"/>
<path class="k" d="M307.7 254.8L309.1 254.4L310.4 254"/>
<path class="k" d="M313.8 253.1L315.2 252.7L316.6 252.3"/>
<path class="k" d="M320 251.4L321.4 251L322.8 250.7"/>
<path class="k" d="M326.2 249.8L327.6 249.5L329 249.2"/>
<path class="k" d="M332.4 248.4L333.8 248L335.2 247.7"/>
<path class="k" d="M338.7 246.9L340.1 246.6L341.5 246.3"/>
<path class="k" d="M344.9 245.6L346.4 245.4L347.8 245.1"/>
<path class="k" d="M351.2 244.4L352.6 244.2L354.1 243.9"/>
<path class="k" d="M357.5 243.3L358.9 243L360.4 242.8"/>
<path class="k" d="M363.8 242.2L365.3 242L366.7 241.8"/>
<path class="k" d="M370.2 241.3L371.6 241.1L373 240.9"/>
<path class="k" d="M376.5 240.4L377.9 240.2L379.4 240.1"/>
<path class="k" d="M382.9 239.7L384.3 239.5L385.7 239.3"/>
<path class="k" d="M389.2 239L390.7 238.9L392.1 238.7"/>
<path class="k" d="M395.6 238.4L397 238.3L398.5 238.2"/>
<path class="k" d="M402 238L403.4 237.9L404.9 237.8"/>
<path class="k" d="M408.4 237.6L409.8 237.6L411.3 237.5"/>
<path class="k" d="M414.8 237.4L416.2 237.4L417.7 237.3"/>
<path class="k" d="M421.2 237.3L422.6 237.3L424.1 237.3"/>
<path class="k" d="M427.6 237.3L429 237.3L430.5 237.4"/>
<path class="k" d="M434 237.5L435.4 237.5L436.9 237.6"/>
<path class="k" d="M440.3 237.8L441.8 237.9L443.2 238"/>
<path class="k" d="M446.7 238.3L448.2 238.4L449.6 238.6"/>
<path class="k" d="M453.1 239L454.5 239.2L456 239.4"/>
<path class="k" d="M459.4 239.9L460.9 240.1L462.3 240.4"/>
<path class="k" d="M465.7 241.1L467.1 241.4L468.6 241.7"/>
<path class="k" d="M471.9 242.5L473.3 242.9L474.7 243.3"/>
<path class="k" d="M478.1 244.4L479.4 244.9L480.8 245.4"/>
<path class="k" d="M484 246.7L485.3 247.3L486.6 248"/>
<path class="k" d="M489.7 249.7L490.9 250.5L492.1 251.4"/>
<path class="k" d="M494.7 253.7L495.7 254.7L496.6 255.9"/>
<path class="k" d="M498.3 258.9L498.7 260.3L499 261.7"/>
<path class="k" d="M499 265.2L498.7 266.6L498.2 268"/>
<path class="k" d="M496.7 271.2L495.9 272.4L495 273.5"/>
<path class="k" d="M492.7 276.2L491.7 277.2L490.6 278.1"/>
<path class="k" d="M487.9 280.4L486.8 281.3L485.6 282.1"/>
<path class="k" d="M482.7 284L481.4 284.8L480.2 285.5"/>
<path class="k" d="M477.1 287.3L475.9 287.9L474.6 288.6"/>
<path class="k" d="M471.4 290.1L470.1 290.7L468.8 291.3"/>
<path class="k" d="M465.6 292.7L464.2 293.3L462.9 293.8"/>
<path class="k" d="M459.6 295.1L458.3 295.6L456.9 296.1"/>
<path class="k" d="M453.6 297.2L452.2 297.7L450.8 298.1"/>
<path class="k" d="M447.5 299.2L446.1 299.6L444.7 300"/>
<path class="k" d="M441.4 301L440 301.4L438.6 301.8"/>
<path class="k" d="M435.2 302.6L433.8 303L432.4 303.3"/>
<path class="k" d="M429 304.2L427.5 304.5L426.1 304.8"/>
<path class="k" d="M422.7 305.5L421.3 305.8L419.9 306.1"/>
<path class="k" d="M416.4 306.8L415 307L413.6 307.3"/>
<path class="k" d="M410.1 307.9L408.7 308.2L407.3 308.4"/>
<path class="k" d="M403.8 308.9L402.4 309.2L400.9 309.4"/>
<path class="k" d="M397.5 309.9L396 310.1L394.6 310.2"/>
<path class="k" d="M391.1 310.7L389.7 310.8L388.3 311"/>
<path class="k" d="M384.8 311.4L383.3 311.5L381.9 311.7"/>
<path class="k" d="M378.4 312L377 312.1L375.5 312.2"/>
<path class="k" d="M372 312.5L370.6 312.6L369.1 312.7"/>
<path class="k" d="M365.6 312.9L364.2 313L362.7 313.1"/>
<path class="k" d="M359.2 313.2L357.8 313.3L356.3 313.3"/>
<path class="k" d="M352.9 313.5L351.4 313.5L350 313.5"/>
<path class="k" d="M346.5 313.6L345 313.6L343.6 313.6"/>
<path class="k" d="M340.1 313.6L338.6 313.6L337.2 313.6"/>
<path class="k" d="M333.7 313.6L332.2 313.5L330.8 313.5"/>
<path class="k" d="M327.3 313.4L325.8 313.3L324.4 313.3"/>
<path class="k" d="M320.9 313.1L319.4 313.1L318 313"/>
<path class="k" d="M314.5 312.8L313 312.7L311.6 312.6"/>
<path class="k" d="M308.1 312.3L306.6 312.2L305.2 312.1"/>
<path class="k" d="M301.7 311.7L300.3 311.6L298.8 311.4"/>
<path class="k" d="M295.3 311.1L293.9 310.9L292.5 310.7"/>
<path class="k" d="M289 310.3L287.6 310.1L286.1 309.9"/>
<path class="k" d="M282.7 309.4L281.2 309.2L279.8 308.9"/>
<path class="k" d="M276.3 308.4L274.9 308.1L273.5 307.8"/>
<path class="k" d="M270 307.2L268.6 306.9L267.2 306.6"/>
<path class="k" d="M263.8 305.9L262.4 305.6L260.9 305.3"/>
<path class="k" d="M257.5 304.5L256.1 304.2L254.7 303.8"/>
<path class="k" d="M251.3 303L249.9 302.6L248.5 302.2"/>
<path class="k" d="M245.2 301.2L243.8 300.8L242.4 300.4"/>
<path class="k" d="M239 299.4L237.7 298.9L236.3 298.4"/>
<path class="k" d="M233 297.3L231.6 296.8L230.3 296.3"/>
<path class="k" d="M227 295L225.6 294.5L224.3 294"/>
<path class="k" d="M221.1 292.6L219.8 292L218.4 291.4"/>
<path class="k" d="M215.3 289.9L214 289.3L212.7 288.6"/>
<path class="k" d="M209.6 287L208.3 286.3L207 285.6"/>
<path class="k" d="M204 283.8L202.8 283L201.6 282.3"/>
<path class="k" d="M198.7 280.3L197.5 279.5L196.3 278.6"/>
<path class="k" d="M193.5 276.5L192.4 275.6L191.3 274.7"/>
<path class="k" d="M188.7 272.3L187.6 271.3L186.6 270.3"/>
<path class="k" d="M184.2 267.8L183.2 266.7L182.3 265.6"/>
<path class="k" d="M180.2 262.8L179.3 261.6L178.5 260.4"/>
<path class="k" d="M176.7 257.4L176 256.1L175.4 254.8"/>
<path class="k" d="M174 251.6L173.5 250.3L173 248.9"/>
<path class="k" d="M172.1 245.5L171.8 244.1L171.6 242.7"/>
<path class="k" d="M171.2 239.2L171.1 237.7L171.1 236.3"/>
<path class="k" d="M171.3 232.8L171.4 231.3L171.6 229.9"/>
<path class="k" d="M172.2 226.5L172.6 225.1L172.9 223.7"/>
<path class="k" d="M174 220.3L174.5 219L175.1 217.6"/>
<path class="k" d="M176.5 214.4L177.2 213.1L177.9 211.9"/>
<path class="k" d="M179.6 208.8L180.4 207.6L181.1 206.4"/>
<path class="k" d="M183.1 203.5L184 202.3L184.9 201.2"/>
<path class="k" d="M187.1 198.4L188 197.3L189 196.3"/>
<path class="k" d="M191.3 193.7L192.3 192.6L193.3 191.6"/>
<path class="k" d="M195.8 189.1L196.9 188.1L197.9 187.1"/>
<path class="k" d="M200.6 184.8L201.7 183.9L202.8 182.9"/>
<path class="k" d="M205.5 180.7L206.6 179.8L207.7 178.9"/>
<path class="k" d="M210.5 176.8L211.7 175.9L212.9 175.1"/>
<path class="k" d="M215.7 173.1L216.9 172.2L218.1 171.4"/>
<path class="k" d="M221 169.5L222.3 168.7L223.5 167.9"/>
<path class="k" d="M226.5 166.1L227.7 165.3L228.9 164.6"/>
<path class="k" d="M232 162.8L233.2 162.1L234.5 161.4"/>
<path class="k" d="M237.6 159.7L238.8 159L240.1 158.3"/>
<path class="k" d="M243.2 156.7L244.5 156.1L245.8 155.4"/>
<path class="k" d="M248.9 153.9L250.3 153.2L251.6 152.6"/>
<path class="k" d="M254.7 151.1L256 150.5L257.4 149.9"/>
<path class="k" d="M260.6 148.5L261.9 147.9L263.2 147.4"/>
<path class="k" d="M266.5 146L267.8 145.4L269.1 144.9"/>
<path class="k" d="M272.4 143.6L273.7 143L275.1 142.5"/>
<path class="k" d="M278.4 141.3L279.7 140.8L281.1 140.3"/>
<path class="k" d="M284.4 139.1L285.7 138.6L287.1 138.1"/>
<path class="k" d="M290.4 137L291.8 136.5L293.2 136"/>
<path class="k" d="M296.5 134.9L297.9 134.5L299.2 134.1"/>
<path class="k" d="M302.6 133L304 132.6L305.4 132.2"/>
<path class="k" d="M308.7 131.2L310.1 130.8L311.5 130.4"/>
<path class="k" d="M314.9 129.5L316.3 129.1L317.7 128.7"/>
<path class="k" d="M321.1 127.8L322.5 127.4L323.9 127.1"/>
<path class="k" d="M327.3 126.2L328.7 125.9L330.1 125.6"/>
<path class="k" d="M333.5 124.8L334.9 124.4L336.3 124.1"/>
<path class="k" d="M339.7 123.4L341.2 123.1L342.6 122.8"/>
<path class="k" d="M346 122.1L347.4 121.8L348.9 121.5"/>
<path class="k" d="M352.3 120.9L353.7 120.6L355.1 120.4"/>
<path class="k" d="M358.6 119.8L360 119.5L361.5 119.3"/>
<path class="k" d="M364.9 118.7L366.3 118.5L367.8 118.3"/>
<path class="k" d="M371.2 117.8L372.7 117.6L374.1 117.4"/>
<path class="k" d="M377.6 117L379 116.8L380.5 116.6"/>
<path class="k" d="M383.9 116.2L385.4 116L386.8 115.9"/>
<path class="k" d="M390.3 115.6L391.8 115.4L393.2 115.3"/>
<path class="k" d="M396.7 115L398.1 114.9L399.6 114.8"/>
<path class="k" d="M403.1 114.6L404.5 114.5L406 114.4"/>
<path class="k" d="M409.5 114.2L410.9 114.2L412.4 114.1"/>
<path class="k" d="M415.9 114L417.3 114L418.8 114"/>
<path class="k" d="M422.3 114L423.7 114L425.2 114"/>
<path class="k" d="M428.7 114L430.1 114L431.6 114.1"/>
<path class="k" d="M435.1 114.2L436.5 114.3L438 114.3"/>
<path class="k" d="M441.4 114.6L442.9 114.7L444.3 114.8"/>
<path class="k" d="M447.8 115.1L449.3 115.2L450.7 115.4"/>
<path class="k" d="M454.2 115.8L455.6 116L457.1 116.2"/>
<path class="k" d="M460.5 116.7L461.9 117L463.4 117.3"/>
<path class="k" d="M466.8 118L468.2 118.3L469.6 118.6"/>
<path class="k" d="M473 119.5L474.4 119.9L475.8 120.3"/>
<path class="k" d="M479.1 121.4L480.5 121.9L481.8 122.4"/>
<path class="k" d="M485 123.8L486.3 124.5L487.6 125.2"/>
<path class="k" d="M490.6 127L491.8 127.8L492.9 128.7"/>
<path class="k" d="M495.4 131.1L496.4 132.3L497.2 133.5"/>
<path class="k" d="M498.6 136.6L498.9 138.1L499.1 139.5"/>
<path class="k" d="M498.8 143L498.3 144.4L497.8 145.7"/>
<path class="k" d="M496.1 148.7L495.2 149.9L494.3 151.1"/>
<path class="k" d="M491.9 153.6L490.9 154.6L489.8 155.5"/>
<path class="k" d="M487 157.7L485.9 158.6L484.7 159.4"/>
<path class="k" d="M481.7 161.3L480.5 162L479.2 162.8"/>
<path class="k" d="M476.2 164.5L474.9 165.1L473.6 165.8"/>
<path class="k" d="M470.4 167.3L469.1 167.9L467.8 168.5"/>
<path class="k" d="M464.6 169.8L463.2 170.4L461.9 170.9"/>
<path class="k" d="M458.6 172.1L457.2 172.6L455.9 173.1"/>
<path class="k" d="M452.6 174.3L451.2 174.7L449.8 175.2"/>
<path class="k" d="M446.5 176.2L445.1 176.6L443.7 177"/>
<path class="k" d="M440.3 178L438.9 178.3L437.5 178.7"/>
<path class="k" d="M434.1 179.6L432.7 179.9L431.3 180.3"/>
<path class="k" d="M427.9 181.1L426.5 181.4L425.1 181.7"/>
<path class="k" d="M421.6 182.4L420.2 182.7L418.8 183"/>
<path class="k" d="M415.4 183.7L413.9 183.9L412.5 184.2"/>
<path class="k" d="M409.1 184.8L407.6 185L406.2 185.2"/>
<path class="k" d="M402.7 185.8L401.3 186L399.9 186.2"/>
<path class="k" d="M396.4 186.7L395 186.9L393.5 187"/>
<path class="k" d="M390 187.5L388.6 187.6L387.2 187.8"/>
<path class="k" d="M383.7 188.2L382.2 188.3L380.8 188.4"/>
<path class="k" d="M377.3 188.8L375.9 188.9L374.4 189"/>
<path class="k" d="M370.9 189.2L369.5 189.3L368 189.4"/>
<path class="k" d="M364.5 189.6L363.1 189.7L361.6 189.8"/>
<path class="k" d="M358.1 189.9L356.7 190L355.2 190.1"/>
<path class="k" d="M351.8 190.2L350.3 190.2L348.9 190.2"/>
<path class="k" d="M345.4 190.3L343.9 190.3L342.5 190.3"/>
<path class="k" d="M339 190.3L337.5 190.3L336.1 190.3"/>
<path class="k" d="M332.6 190.2L331.1 190.2L329.7 190.1"/>
<path class="k" d="M326.2 190L324.7 190L323.3 189.9"/>
<path class="k" d="M319.8 189.7L318.3 189.7L316.9 189.6"/>
<path class="k" d="M313.4 189.4L311.9 189.3L310.5 189.2"/>
<path class="k" d="M307 188.9L305.5 188.8L304.1 188.6"/>
<path class="k" d="M300.6 188.3L299.2 188.2L297.7 188"/>
<path class="k" d="M294.3 187.6L292.8 187.4L291.4 187.3"/>
<path class="k" d="M287.9 186.8L286.5 186.6L285 186.4"/>
<path class="k" d="M281.6 185.9L280.1 185.7L278.7 185.4"/>
<path class="k" d="M275.3 184.8L273.8 184.6L272.4 184.3"/>
<path class="b" d="M270.1 391L271.6 390.4L273.1 389.9L274.6 389.3L276.1 388.8L277.6 388.2L279.1 387.6L280.6 387.1L282.1 386.6L283.6 386.1L285.1 385.6L286.7 385.1L288.2 384.6L289.7 384.1L291.2 383.6L292.7 383.1L294.3 382.6L295.8 382.1L297.3 381.7L298.9 381.2L300.4 380.8L301.9 380.3L303.5 379.9L305 379.4L306.5 379L308.1 378.6L309.6 378.1L311.2 377.7L312.7 377.3L314.2 376.8L315.8 376.5L317.3 376.1L318.9 375.6L320.4 375.3L322 374.9L323.6 374.6L325.1 374.2L326.7 373.8L328.2 373.5L329.8 373L331.3 372.7L332.9 372.4L334.5 372L336 371.7L337.6 371.4L339.2 371L340.7 370.8L342.3 370.5L343.9 370.1L345.4 369.8L347 369.6L348.6 369.2L350.2 369L351.7 368.7L353.3 368.4L354.9 368.1L356.5 367.9L358 367.6L359.6 367.4L361.2 367.1L362.8 366.9"/>
<path class="b" d="M502.2 260.9L502 262.5L501.3 264L500.6 265.4L499.6 266.6L498.7 267.9L497.7 269.2L496.7 270.5L495.8 271.8L494.9 273.1L494 274.4L493.1 275.8L492.2 277L491.1 278.2L490 279.4L488.9 280.5L487.7 281.6L486.5 282.6L485.2 283.5L483.9 284.4L482.5 285.3L481.1 286.1L479.7 286.8L478.2 287.5L476.8 288.1L475.3 288.7L473.8 289.2L472.3 289.8L470.8 290.3L469.2 290.7L467.7 291.2L466.2 291.7L464.6 292.1L463.1 292.5L461.5 293L460 293.4L458.5 293.8L456.9 294.2L455.4 294.7L453.8 295.1L452.3 295.7L450.8 296.2L449.3 296.6L447.8 297.2L446.3 297.7L444.7 298.1L443.2 298.6L441.7 299.1L440.1 299.5L438.6 299.9L437 300.4L435.5 300.8L434 301.3L432.4 301.7L430.9 302.1L429.3 302.5L427.8 302.9L426.2 303.3L424.7 303.6L423.1 304L421.5 304.3L420 304.7L418.4 305L416.9 305.4L415.3 305.7L413.7 306L412.2 306.3L410.6 306.6L409 306.9L407.4 307.1L405.9 307.4L404.3 307.6L402.7 307.9L401.1 308.1L399.5 308.4L397.9 308.6L396.4 308.8L394.8 309L393.2 309.2L391.6 309.4L390 309.6L388.4 309.8L386.8 309.9L385.2 310.1L383.6 310.3L382.1 310.4L380.5 310.6L378.9 310.7L377.3 310.8L375.7 310.9L374.1 311.1L372.5 311.2L370.9 311.3L369.3 311.4L367.7 311.5L366.1 311.6L364.5 311.7L362.9 311.8L361.3 311.8L359.7 311.9L358.1 311.9L356.5 311.9L354.9 312L353.3 312L351.7 312.1L350.1 312.1L348.5 312.1L346.9 312.1L345.3 312.1L343.7 312.1L342.1 312.1L340.5 312.1L338.9 312L337.3 312L335.7 312L334.1 311.9L332.5 311.8L330.9 311.8L329.3 311.7L327.7 311.7L326.1 311.6L324.5 311.5L322.9 311.4L321.3 311.3L319.8 311.2L318.2 311L316.6 310.8L315 310.7L313.4 310.4L311.8 310.2L310.2 309.9L308.7 309.6L307.1 309.4L305.5 309.1L303.9 308.9L302.3 308.6L300.8 308.4L299.2 308.2L297.6 308.1L296 307.9L294.4 307.8L292.8 307.7L291.2 307.6L289.6 307.5L288 307.5L286.4 307.4L284.8 307.3L283.2 307.3L281.6 307.2L280 307.2L278.4 307.1L276.8 307L275.2 307L273.6 306.9L272 306.8L270.4 306.6"/>
<path class="b" d="M496.1 158.3L494.8 159.2L493.5 160.2L492.2 161.1L490.9 162L489.5 162.8L488.1 163.6L486.8 164.5L485.4 165.2L483.9 165.9L482.5 166.7L481.1 167.4L479.6 168L478.1 168.6L476.6 169.1L475.1 169.7L473.6 170.2L472.1 170.7L470.6 171.2L469 171.7L467.5 172.1L466 172.6L464.4 173.1L462.9 173.5L461.4 173.9L459.8 174.3L458.3 174.8L456.7 175.1L455.2 175.5L453.6 175.9L452 176.2L450.5 176.5L448.9 176.9L447.3 177.2L445.8 177.5L444.2 177.8L442.6 178.1L441.1 178.4L439.5 178.7L437.9 179L436.4 179.3L434.8 179.6L433.2 180L431.7 180.3L430.1 180.7L428.5 181L427 181.4L425.4 181.7L423.9 182L422.3 182.4L420.7 182.7L419.1 182.9L417.6 183.3L416 183.5L414.4 183.8L412.9 184.1L411.3 184.4L409.7 184.6L408.1 184.9L406.5 185.2L405 185.4L403.4 185.6L401.8 185.8L400.2 186.1L398.6 186.3L397 186.5L395.4 186.7L393.9 186.9L392.3 187.1L390.7 187.3L389.1 187.4L387.5 187.6L385.9 187.7L384.3 187.9L382.7 188.1L381.1 188.2L379.5 188.3L377.9 188.4L376.3 188.5L374.7 188.7L373.2 188.7L371.6 188.8L370 188.9L368.4 188.9L366.8 189L365.2 189.1L363.6 189.1L362 189.2L360.4 189.2L358.8 189.3L357.2 189.3L355.6 189.3L354 189.3L352.4 189.4L350.8 189.4L349.2 189.4L347.6 189.4L346 189.4L344.4 189.4L342.8 189.4L341.2 189.4L339.6 189.4L338 189.3L336.4 189.3L334.8 189.3L333.2 189.3L331.6 189.2L330 189.2L328.4 189.2L326.8 189.1L325.2 189.1L323.6 189L322 189L320.4 188.9L318.8 188.9L317.2 188.8L315.6 188.7L314 188.6L312.4 188.5L310.8 188.5L309.2 188.4L307.6 188.3L306 188.3L304.4 188.2L302.8 188L301.2 187.9L299.6 187.8L298 187.7L296.4 187.5L294.8 187.4L293.3 187.2L291.7 187L290.1 186.8L288.5 186.5L286.9 186.3L285.3 186.1L283.7 185.8L282.2 185.5L280.6 185.2L279 184.9L277.5 184.6L275.9 184.3"/>
<path class="r" d="M476.7 412.6L475.3 413.3L473.8 414L472.4 414.7L470.9 415.4L469.5 416L468 416.7L466.6 417.3L465.1 417.9L463.6 418.5L462.1 419.1L460.6 419.7L459.1 420.3L457.6 420.8L456.1 421.3L454.6 421.8L453.1 422.4L451.5 422.8L450 423.4L448.5 423.8L447 424.3L445.4 424.8L443.9 425.3L442.4 425.7L440.8 426.1L439.3 426.5L437.7 426.9L436.2 427.3L434.6 427.7L433.1 428.1L431.5 428.5L430 428.9L428.4 429.3L426.9 429.7L425.3 429.9L423.7 430.3L422.2 430.7L420.6 431L419 431.3L417.5 431.6L415.9 431.9L414.3 432.3L412.8 432.5L411.2 432.8L409.6 433.1L408 433.4L406.5 433.7L404.9 433.9L403.3 434.1L401.7 434.4L400.1 434.6L398.5 434.8L397 435.1L395.4 435.3L393.8 435.5L392.2 435.8L390.6 435.9L389 436.1L387.4 436.4L385.9 436.5L384.3 436.7L382.7 436.9L381.1 437.1L379.5 437.2L377.9 437.3L376.3 437.5L374.7 437.6L373.1 437.7L371.5 437.9L369.9 438.1L368.3 438.2L366.7 438.3L365.1 438.4L363.5 438.5L361.9 438.6L360.3 438.6L358.7 438.7L357.1 438.8L355.5 438.9L353.9 439L352.3 439L350.8 439.1L349.2 439.1L347.6 439.2L346 439.2L344.4 439.2L342.8 439.3L341.2 439.3L339.6 439.3L338 439.3L336.3 439.3L334.7 439.3L333.1 439.3L331.5 439.3L329.9 439.3L328.3 439.3L326.7 439.2L325.1 439.2L323.5 439.2L321.9 439.1L320.3 439.1"/>
<path class="m" d="M442.7 359.5L444.3 359.8L445.9 360.1L447.4 360.4L449 360.6L450.6 360.8L452.2 361.1L453.8 361.3L455.4 361.5L456.9 361.7L458.5 361.9"/>
<path class="m" d="M482.3 371.4L482.1 372.9L482.7 374.4L484 375.3L485.3 376.1L486.7 376.9L488.1 377.7L489.4 378.6L490.8 379.4L492.3 379.9L493.9 380.3L495.5 380.5L497 380.3L498.6 380.1L500.2 380L501.8 379.8"/>
<path class="m" d="M457.1 241.2L458.7 241.4L460.2 241.7L461.8 242L463.4 242.3L464.9 242.6L466.5 242.9L468.1 243.2L469.6 243.6L471.2 244L472.7 244.4L474.3 244.8L475.8 245.2L477.4 245.6L478.9 246.1L480.4 246.6L481.9 247.1L483.5 247.2L485.1 247.2L486.7 247.1L488.3 247.1"/>
<path d="M72.3 442.4 L72.3 115.7 M72.3 442.4 L337.5 591.8 M337.5 591.8 L683.3 477.2 M72.3 442.4 L63.3 437.3 M72.3 360.7 L63.3 355.7 M72.3 279 L63.3 274 M72.3 197.4 L63.3 192.3 M72.3 115.7 L63.3 110.7 M337.5 591.8 L329.5 594.5 M255.1 545.4 L247.1 548 M172.7 499 L164.7 501.6 M90.3 452.5 L82.4 455.2 M358 585 L367 590.1 M499.9 538 L508.8 543.1 M641.7 491 L650.6 496.1" stroke="#262626" stroke-width="1.3" fill="none"/>
<text transform="translate(44.8,442.9) scale(1,1.04)" font-size="21.5" fill="#262626">0</text>
<path transform="translate(0,361.2) scale(1,1.04)" d="M40.2 0 L38.3 0 L38.3 -11.6 L37.6 -10.9 L36.5 -10.3 L35.4 -9.7 L34.5 -9.4 L34.5 -11.1 L36.1 -11.9 L37.3 -12.9 L38.5 -13.9 L39 -14.8 L40.2 -14.8Z" fill="#262626" stroke="#262626" stroke-width="0.5"/>
<text transform="translate(44.8,361.2) scale(1,1.04)" font-size="21.5" fill="#262626">0</text>
<text transform="translate(32.9,279.5) scale(1,1.04)" font-size="21.5" fill="#262626">2</text>
<text transform="translate(44.8,279.5) scale(1,1.04)" font-size="21.5" fill="#262626">0</text>
<text transform="translate(32.9,197.9) scale(1,1.04)" font-size="21.5" fill="#262626">3</text>
<text transform="translate(44.8,197.9) scale(1,1.04)" font-size="21.5" fill="#262626">0</text>
<text transform="translate(32.9,116.2) scale(1,1.04)" font-size="21.5" fill="#262626">4</text>
<text transform="translate(44.8,116.2) scale(1,1.04)" font-size="21.5" fill="#262626">0</text>
<text transform="translate(290.2,619.6) scale(1,1.04)" font-size="21.5" fill="#262626">-</text>
<path transform="translate(0,619.6) scale(1,1.04)" d="M304.7 0 L302.8 0 L302.8 -11.6 L302.1 -10.9 L301 -10.3 L299.9 -9.7 L299 -9.4 L299 -11.1 L300.6 -11.9 L301.8 -12.9 L302.9 -13.9 L303.4 -14.8 L304.7 -14.8Z" fill="#262626" stroke="#262626" stroke-width="0.5"/>
<text transform="translate(309.3,619.6) scale(1,1.04)" font-size="21.5" fill="#262626">0</text>
<text transform="translate(219.8,573.2) scale(1,1.04)" font-size="21.5" fill="#262626">-</text>
<text transform="translate(226.9,573.2) scale(1,1.04)" font-size="21.5" fill="#262626">5</text>
<text transform="translate(144.6,526.8) scale(1,1.04)" font-size="21.5" fill="#262626">0</text>
<text transform="translate(62.2,480.3) scale(1,1.04)" font-size="21.5" fill="#262626">5</text>
<text transform="translate(373.5,615.8) scale(1,1.04)" font-size="21.5" fill="#262626">-</text>
<text transform="translate(380.7,615.8) scale(1,1.04)" font-size="21.5" fill="#262626">5</text>
<text transform="translate(515.4,568.8) scale(1,1.04)" font-size="21.5" fill="#262626">0</text>
<text transform="translate(657.2,521.8) scale(1,1.04)" font-size="21.5" fill="#262626">5</text>
<text transform="translate(477.3,624.3) scale(1.04,1)" font-size="23.3" fill="#262626">x(m)</text>
<text transform="translate(156.8,615.3) scale(1.04,1)" font-size="23.3" fill="#262626">y(m)</text>
<text transform="translate(17.8,303.3) rotate(-90) scale(1.05,1)" font-size="23.3" fill="#262626">z(m)</text>
<path d="M117.4 8.5 L182.6 8.5" stroke="#000" stroke-width="2.9" stroke-dasharray="2.9 3.5" fill="none"/>
<text transform="translate(187.4,16.1) scale(1,1.04)" font-size="19.2" fill="#262626">Reference</text>
<path d="M117.6 34.2 L182.7 34.2" stroke="#0000dc" stroke-width="3.2" fill="none"/>
<text transform="translate(187.4,41.8) scale(1,1.04)" font-size="19.2" fill="#262626">Proposed Strategy</text>
<path d="M117.6 60.1 L182.7 60.1" stroke="#e10a0a" stroke-width="3.2" fill="none"/>
<text transform="translate(187.4,67.7) scale(1,1.04)" font-size="19.2" fill="#262626">LADRC</text>
<path d="M117.6 86.0 L182.7 86.0" stroke="#19f019" stroke-width="3.2" fill="none"/>
<text transform="translate(187.4,93.6) scale(1,1.04)" font-size="19.2" fill="#262626">MFTSMC</text>
<path d="M117.6 111.9 L182.7 111.9" stroke="#eb0feb" stroke-width="3.2" fill="none"/>
<text transform="translate(187.4,119.5) scale(1,1.04)" font-size="19.2" fill="#262626">SMC</text>
</g></svg></div>
</body></html>
